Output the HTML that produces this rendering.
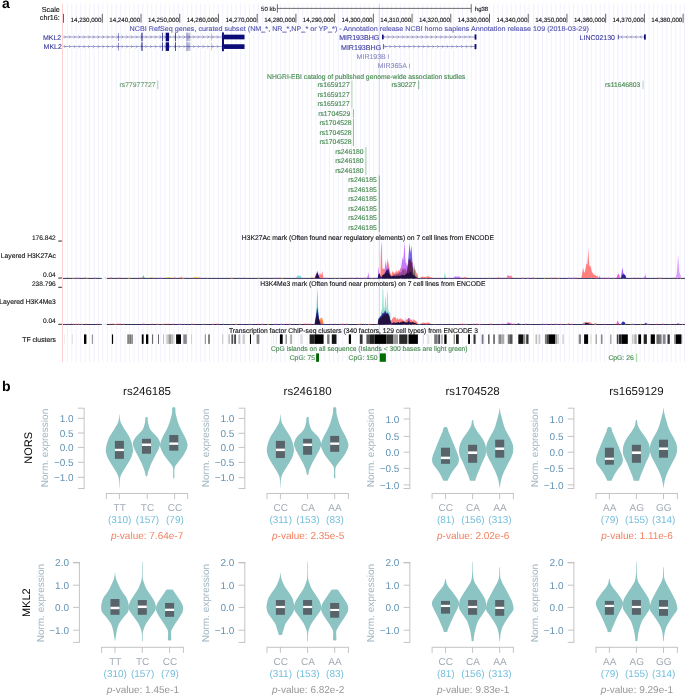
<!DOCTYPE html>
<html><head><meta charset="utf-8"><title>Figure</title>
<style>html,body{margin:0;padding:0;background:#fff;}svg{display:block;will-change:transform;}text{font-family:"Liberation Sans", sans-serif;text-rendering:geometricPrecision;}</style>
</head><body>
<svg width="685" height="696" viewBox="0 0 685 696" font-family='"Liberation Sans", sans-serif'>
<rect x="0" y="0" width="685" height="696" fill="#ffffff"/>
<g stroke="#e0e0ff" stroke-width="0.45">
<line x1="67.40" y1="3.5" x2="67.40" y2="362"/>
<line x1="71.84" y1="3.5" x2="71.84" y2="362"/>
<line x1="76.28" y1="3.5" x2="76.28" y2="362"/>
<line x1="80.72" y1="3.5" x2="80.72" y2="362"/>
<line x1="85.16" y1="3.5" x2="85.16" y2="362"/>
<line x1="89.60" y1="3.5" x2="89.60" y2="362"/>
<line x1="94.04" y1="3.5" x2="94.04" y2="362"/>
<line x1="98.48" y1="3.5" x2="98.48" y2="362"/>
<line x1="102.92" y1="3.5" x2="102.92" y2="362"/>
<line x1="107.36" y1="3.5" x2="107.36" y2="362"/>
<line x1="111.80" y1="3.5" x2="111.80" y2="362"/>
<line x1="116.24" y1="3.5" x2="116.24" y2="362"/>
<line x1="120.68" y1="3.5" x2="120.68" y2="362"/>
<line x1="125.12" y1="3.5" x2="125.12" y2="362"/>
<line x1="129.56" y1="3.5" x2="129.56" y2="362"/>
<line x1="134.00" y1="3.5" x2="134.00" y2="362"/>
<line x1="138.44" y1="3.5" x2="138.44" y2="362"/>
<line x1="142.88" y1="3.5" x2="142.88" y2="362"/>
<line x1="147.32" y1="3.5" x2="147.32" y2="362"/>
<line x1="151.76" y1="3.5" x2="151.76" y2="362"/>
<line x1="156.20" y1="3.5" x2="156.20" y2="362"/>
<line x1="160.64" y1="3.5" x2="160.64" y2="362"/>
<line x1="165.08" y1="3.5" x2="165.08" y2="362"/>
<line x1="169.52" y1="3.5" x2="169.52" y2="362"/>
<line x1="173.96" y1="3.5" x2="173.96" y2="362"/>
<line x1="178.40" y1="3.5" x2="178.40" y2="362"/>
<line x1="182.84" y1="3.5" x2="182.84" y2="362"/>
<line x1="187.28" y1="3.5" x2="187.28" y2="362"/>
<line x1="191.72" y1="3.5" x2="191.72" y2="362"/>
<line x1="196.16" y1="3.5" x2="196.16" y2="362"/>
<line x1="200.60" y1="3.5" x2="200.60" y2="362"/>
<line x1="205.04" y1="3.5" x2="205.04" y2="362"/>
<line x1="209.48" y1="3.5" x2="209.48" y2="362"/>
<line x1="213.92" y1="3.5" x2="213.92" y2="362"/>
<line x1="218.36" y1="3.5" x2="218.36" y2="362"/>
<line x1="222.80" y1="3.5" x2="222.80" y2="362"/>
<line x1="227.24" y1="3.5" x2="227.24" y2="362"/>
<line x1="231.68" y1="3.5" x2="231.68" y2="362"/>
<line x1="236.12" y1="3.5" x2="236.12" y2="362"/>
<line x1="240.56" y1="3.5" x2="240.56" y2="362"/>
<line x1="245.00" y1="3.5" x2="245.00" y2="362"/>
<line x1="249.44" y1="3.5" x2="249.44" y2="362"/>
<line x1="253.88" y1="3.5" x2="253.88" y2="362"/>
<line x1="258.32" y1="3.5" x2="258.32" y2="362"/>
<line x1="262.76" y1="3.5" x2="262.76" y2="362"/>
<line x1="267.20" y1="3.5" x2="267.20" y2="362"/>
<line x1="271.64" y1="3.5" x2="271.64" y2="362"/>
<line x1="276.08" y1="3.5" x2="276.08" y2="362"/>
<line x1="280.52" y1="3.5" x2="280.52" y2="362"/>
<line x1="284.96" y1="3.5" x2="284.96" y2="362"/>
<line x1="289.40" y1="3.5" x2="289.40" y2="362"/>
<line x1="293.84" y1="3.5" x2="293.84" y2="362"/>
<line x1="298.28" y1="3.5" x2="298.28" y2="362"/>
<line x1="302.72" y1="3.5" x2="302.72" y2="362"/>
<line x1="307.16" y1="3.5" x2="307.16" y2="362"/>
<line x1="311.60" y1="3.5" x2="311.60" y2="362"/>
<line x1="316.04" y1="3.5" x2="316.04" y2="362"/>
<line x1="320.48" y1="3.5" x2="320.48" y2="362"/>
<line x1="324.92" y1="3.5" x2="324.92" y2="362"/>
<line x1="329.36" y1="3.5" x2="329.36" y2="362"/>
<line x1="333.80" y1="3.5" x2="333.80" y2="362"/>
<line x1="338.24" y1="3.5" x2="338.24" y2="362"/>
<line x1="342.68" y1="3.5" x2="342.68" y2="362"/>
<line x1="347.12" y1="3.5" x2="347.12" y2="362"/>
<line x1="351.56" y1="3.5" x2="351.56" y2="362"/>
<line x1="356.00" y1="3.5" x2="356.00" y2="362"/>
<line x1="360.44" y1="3.5" x2="360.44" y2="362"/>
<line x1="364.88" y1="3.5" x2="364.88" y2="362"/>
<line x1="369.32" y1="3.5" x2="369.32" y2="362"/>
<line x1="373.76" y1="3.5" x2="373.76" y2="362"/>
<line x1="378.20" y1="3.5" x2="378.20" y2="362"/>
<line x1="382.64" y1="3.5" x2="382.64" y2="362"/>
<line x1="387.08" y1="3.5" x2="387.08" y2="362"/>
<line x1="391.52" y1="3.5" x2="391.52" y2="362"/>
<line x1="395.96" y1="3.5" x2="395.96" y2="362"/>
<line x1="400.40" y1="3.5" x2="400.40" y2="362"/>
<line x1="404.84" y1="3.5" x2="404.84" y2="362"/>
<line x1="409.28" y1="3.5" x2="409.28" y2="362"/>
<line x1="413.72" y1="3.5" x2="413.72" y2="362"/>
<line x1="418.16" y1="3.5" x2="418.16" y2="362"/>
<line x1="422.60" y1="3.5" x2="422.60" y2="362"/>
<line x1="427.04" y1="3.5" x2="427.04" y2="362"/>
<line x1="431.48" y1="3.5" x2="431.48" y2="362"/>
<line x1="435.92" y1="3.5" x2="435.92" y2="362"/>
<line x1="440.36" y1="3.5" x2="440.36" y2="362"/>
<line x1="444.80" y1="3.5" x2="444.80" y2="362"/>
<line x1="449.24" y1="3.5" x2="449.24" y2="362"/>
<line x1="453.68" y1="3.5" x2="453.68" y2="362"/>
<line x1="458.12" y1="3.5" x2="458.12" y2="362"/>
<line x1="462.56" y1="3.5" x2="462.56" y2="362"/>
<line x1="467.00" y1="3.5" x2="467.00" y2="362"/>
<line x1="471.44" y1="3.5" x2="471.44" y2="362"/>
<line x1="475.88" y1="3.5" x2="475.88" y2="362"/>
<line x1="480.32" y1="3.5" x2="480.32" y2="362"/>
<line x1="484.76" y1="3.5" x2="484.76" y2="362"/>
<line x1="489.20" y1="3.5" x2="489.20" y2="362"/>
<line x1="493.64" y1="3.5" x2="493.64" y2="362"/>
<line x1="498.08" y1="3.5" x2="498.08" y2="362"/>
<line x1="502.52" y1="3.5" x2="502.52" y2="362"/>
<line x1="506.96" y1="3.5" x2="506.96" y2="362"/>
<line x1="511.40" y1="3.5" x2="511.40" y2="362"/>
<line x1="515.84" y1="3.5" x2="515.84" y2="362"/>
<line x1="520.28" y1="3.5" x2="520.28" y2="362"/>
<line x1="524.72" y1="3.5" x2="524.72" y2="362"/>
<line x1="529.16" y1="3.5" x2="529.16" y2="362"/>
<line x1="533.60" y1="3.5" x2="533.60" y2="362"/>
<line x1="538.04" y1="3.5" x2="538.04" y2="362"/>
<line x1="542.48" y1="3.5" x2="542.48" y2="362"/>
<line x1="546.92" y1="3.5" x2="546.92" y2="362"/>
<line x1="551.36" y1="3.5" x2="551.36" y2="362"/>
<line x1="555.80" y1="3.5" x2="555.80" y2="362"/>
<line x1="560.24" y1="3.5" x2="560.24" y2="362"/>
<line x1="564.68" y1="3.5" x2="564.68" y2="362"/>
<line x1="569.12" y1="3.5" x2="569.12" y2="362"/>
<line x1="573.56" y1="3.5" x2="573.56" y2="362"/>
<line x1="578.00" y1="3.5" x2="578.00" y2="362"/>
<line x1="582.44" y1="3.5" x2="582.44" y2="362"/>
<line x1="586.88" y1="3.5" x2="586.88" y2="362"/>
<line x1="591.32" y1="3.5" x2="591.32" y2="362"/>
<line x1="595.76" y1="3.5" x2="595.76" y2="362"/>
<line x1="600.20" y1="3.5" x2="600.20" y2="362"/>
<line x1="604.64" y1="3.5" x2="604.64" y2="362"/>
<line x1="609.08" y1="3.5" x2="609.08" y2="362"/>
<line x1="613.52" y1="3.5" x2="613.52" y2="362"/>
<line x1="617.96" y1="3.5" x2="617.96" y2="362"/>
<line x1="622.40" y1="3.5" x2="622.40" y2="362"/>
<line x1="626.84" y1="3.5" x2="626.84" y2="362"/>
<line x1="631.28" y1="3.5" x2="631.28" y2="362"/>
<line x1="635.72" y1="3.5" x2="635.72" y2="362"/>
<line x1="640.16" y1="3.5" x2="640.16" y2="362"/>
<line x1="644.60" y1="3.5" x2="644.60" y2="362"/>
<line x1="649.04" y1="3.5" x2="649.04" y2="362"/>
<line x1="653.48" y1="3.5" x2="653.48" y2="362"/>
<line x1="657.92" y1="3.5" x2="657.92" y2="362"/>
<line x1="662.36" y1="3.5" x2="662.36" y2="362"/>
<line x1="666.80" y1="3.5" x2="666.80" y2="362"/>
<line x1="671.24" y1="3.5" x2="671.24" y2="362"/>
<line x1="675.68" y1="3.5" x2="675.68" y2="362"/>
<line x1="680.12" y1="3.5" x2="680.12" y2="362"/>
<line x1="684.56" y1="3.5" x2="684.56" y2="362"/>
</g>
<line x1="62.50" y1="3.50" x2="62.50" y2="362.00" stroke="#ffd2d2" stroke-width="1"/>
<line x1="379.50" y1="3.50" x2="379.50" y2="362.00" stroke="#c2e2f6" stroke-width="0.9"/>
<text x="1.9" y="8.0" font-size="14" font-weight="bold" fill="#000">a</text>
<text x="59.80" y="11.50" font-size="7.2" fill="#111" stroke="#111" stroke-width="0.12" text-anchor="end">Scale</text>
<text x="59.80" y="20.00" font-size="7.2" fill="#111" stroke="#111" stroke-width="0.12" text-anchor="end">chr16:</text>
<line x1="63.50" y1="13.80" x2="63.50" y2="22.70" stroke="#222" stroke-width="0.7"/>
<line x1="102.30" y1="13.80" x2="102.30" y2="22.70" stroke="#222" stroke-width="0.7"/>
<text x="101.50" y="21.80" font-size="6.2" fill="#111" stroke="#111" stroke-width="0.12" text-anchor="end">14,230,000</text>
<line x1="141.02" y1="13.80" x2="141.02" y2="22.70" stroke="#222" stroke-width="0.7"/>
<text x="140.22" y="21.80" font-size="6.2" fill="#111" stroke="#111" stroke-width="0.12" text-anchor="end">14,240,000</text>
<line x1="179.74" y1="13.80" x2="179.74" y2="22.70" stroke="#222" stroke-width="0.7"/>
<text x="178.94" y="21.80" font-size="6.2" fill="#111" stroke="#111" stroke-width="0.12" text-anchor="end">14,250,000</text>
<line x1="218.46" y1="13.80" x2="218.46" y2="22.70" stroke="#222" stroke-width="0.7"/>
<text x="217.66" y="21.80" font-size="6.2" fill="#111" stroke="#111" stroke-width="0.12" text-anchor="end">14,260,000</text>
<line x1="257.18" y1="13.80" x2="257.18" y2="22.70" stroke="#222" stroke-width="0.7"/>
<text x="256.38" y="21.80" font-size="6.2" fill="#111" stroke="#111" stroke-width="0.12" text-anchor="end">14,270,000</text>
<line x1="295.90" y1="13.80" x2="295.90" y2="22.70" stroke="#222" stroke-width="0.7"/>
<text x="295.10" y="21.80" font-size="6.2" fill="#111" stroke="#111" stroke-width="0.12" text-anchor="end">14,280,000</text>
<line x1="334.62" y1="13.80" x2="334.62" y2="22.70" stroke="#222" stroke-width="0.7"/>
<text x="333.82" y="21.80" font-size="6.2" fill="#111" stroke="#111" stroke-width="0.12" text-anchor="end">14,290,000</text>
<line x1="373.34" y1="13.80" x2="373.34" y2="22.70" stroke="#222" stroke-width="0.7"/>
<text x="372.54" y="21.80" font-size="6.2" fill="#111" stroke="#111" stroke-width="0.12" text-anchor="end">14,300,000</text>
<line x1="412.06" y1="13.80" x2="412.06" y2="22.70" stroke="#222" stroke-width="0.7"/>
<text x="411.26" y="21.80" font-size="6.2" fill="#111" stroke="#111" stroke-width="0.12" text-anchor="end">14,310,000</text>
<line x1="450.78" y1="13.80" x2="450.78" y2="22.70" stroke="#222" stroke-width="0.7"/>
<text x="449.98" y="21.80" font-size="6.2" fill="#111" stroke="#111" stroke-width="0.12" text-anchor="end">14,320,000</text>
<line x1="489.50" y1="13.80" x2="489.50" y2="22.70" stroke="#222" stroke-width="0.7"/>
<text x="488.70" y="21.80" font-size="6.2" fill="#111" stroke="#111" stroke-width="0.12" text-anchor="end">14,330,000</text>
<line x1="528.22" y1="13.80" x2="528.22" y2="22.70" stroke="#222" stroke-width="0.7"/>
<text x="527.42" y="21.80" font-size="6.2" fill="#111" stroke="#111" stroke-width="0.12" text-anchor="end">14,340,000</text>
<line x1="566.94" y1="13.80" x2="566.94" y2="22.70" stroke="#222" stroke-width="0.7"/>
<text x="566.14" y="21.80" font-size="6.2" fill="#111" stroke="#111" stroke-width="0.12" text-anchor="end">14,350,000</text>
<line x1="605.66" y1="13.80" x2="605.66" y2="22.70" stroke="#222" stroke-width="0.7"/>
<text x="604.86" y="21.80" font-size="6.2" fill="#111" stroke="#111" stroke-width="0.12" text-anchor="end">14,360,000</text>
<line x1="644.38" y1="13.80" x2="644.38" y2="22.70" stroke="#222" stroke-width="0.7"/>
<text x="643.58" y="21.80" font-size="6.2" fill="#111" stroke="#111" stroke-width="0.12" text-anchor="end">14,370,000</text>
<line x1="683.10" y1="13.80" x2="683.10" y2="22.70" stroke="#222" stroke-width="0.7"/>
<text x="682.30" y="21.80" font-size="6.2" fill="#111" stroke="#111" stroke-width="0.12" text-anchor="end">14,380,000</text>
<line x1="277.40" y1="8.40" x2="471.20" y2="8.40" stroke="#333" stroke-width="0.7"/>
<line x1="277.40" y1="4.20" x2="277.40" y2="12.60" stroke="#333" stroke-width="0.7"/>
<line x1="471.20" y1="4.20" x2="471.20" y2="12.60" stroke="#333" stroke-width="0.7"/>
<text x="275.80" y="11.40" font-size="6.0" fill="#111" stroke="#111" stroke-width="0.12" text-anchor="end">50 kb</text>
<text x="474.80" y="11.40" font-size="6.0" fill="#111" stroke="#111" stroke-width="0.12">hg38</text>
<text x="129.60" y="31.40" font-size="6.8" fill="#5656b0" stroke="#5656b0" stroke-width="0.12" textLength="459.20" lengthAdjust="spacingAndGlyphs">NCBI RefSeq genes, curated subset (NM_*, NR_*,NP_* or YP_*) - Annotation release NCBI homo sapiens Annotation release 109 (2018-03-29)</text>
<text x="61.20" y="39.60" font-size="7.0" fill="#3c3ca0" stroke="#3c3ca0" stroke-width="0.12" text-anchor="end">MKL2</text>
<line x1="63.20" y1="37.00" x2="244.50" y2="37.00" stroke="#2a2a8c" stroke-width="0.6" opacity="0.75"/>
<path d="M64.10,35.40L65.70,37.00L64.10,38.60M68.87,35.40L70.47,37.00L68.87,38.60M73.64,35.40L75.24,37.00L73.64,38.60M78.41,35.40L80.01,37.00L78.41,38.60M83.18,35.40L84.78,37.00L83.18,38.60M87.95,35.40L89.55,37.00L87.95,38.60M92.72,35.40L94.32,37.00L92.72,38.60M97.49,35.40L99.09,37.00L97.49,38.60M102.26,35.40L103.86,37.00L102.26,38.60M107.03,35.40L108.63,37.00L107.03,38.60M111.80,35.40L113.40,37.00L111.80,38.60M116.57,35.40L118.17,37.00L116.57,38.60M121.34,35.40L122.94,37.00L121.34,38.60M126.11,35.40L127.71,37.00L126.11,38.60M130.88,35.40L132.48,37.00L130.88,38.60M135.65,35.40L137.25,37.00L135.65,38.60M140.42,35.40L142.02,37.00L140.42,38.60M145.19,35.40L146.79,37.00L145.19,38.60M149.96,35.40L151.56,37.00L149.96,38.60M154.73,35.40L156.33,37.00L154.73,38.60M159.50,35.40L161.10,37.00L159.50,38.60M164.27,35.40L165.87,37.00L164.27,38.60M169.04,35.40L170.64,37.00L169.04,38.60M173.81,35.40L175.41,37.00L173.81,38.60M178.58,35.40L180.18,37.00L178.58,38.60M183.35,35.40L184.95,37.00L183.35,38.60M188.12,35.40L189.72,37.00L188.12,38.60M192.89,35.40L194.49,37.00L192.89,38.60M197.66,35.40L199.26,37.00L197.66,38.60M202.43,35.40L204.03,37.00L202.43,38.60M207.20,35.40L208.80,37.00L207.20,38.60M211.97,35.40L213.57,37.00L211.97,38.60M216.74,35.40L218.34,37.00L216.74,38.60M221.51,35.40L223.11,37.00L221.51,38.60M226.28,35.40L227.88,37.00L226.28,38.60M231.05,35.40L232.65,37.00L231.05,38.60M235.82,35.40L237.42,37.00L235.82,38.60M240.59,35.40L242.19,37.00L240.59,38.60" fill="none" stroke="#2a2a8c" stroke-width="0.5" opacity="0.68"/>
<rect x="118.10" y="33.00" width="0.60" height="8.00" fill="#0c0c78" opacity="0.75"/>
<rect x="141.50" y="32.70" width="1.00" height="8.60" fill="#0c0c78"/>
<rect x="162.00" y="32.70" width="0.80" height="8.60" fill="#0c0c78" opacity="0.9"/>
<rect x="165.70" y="32.70" width="3.30" height="8.60" fill="#0c0c78"/>
<rect x="175.10" y="32.70" width="0.80" height="8.60" fill="#0c0c78" opacity="0.9"/>
<rect x="186.30" y="32.70" width="0.60" height="8.60" fill="#0c0c78" opacity="0.5"/>
<rect x="187.40" y="32.70" width="0.60" height="8.60" fill="#0c0c78" opacity="0.5"/>
<rect x="188.50" y="32.70" width="0.60" height="8.60" fill="#0c0c78" opacity="0.5"/>
<rect x="189.60" y="32.70" width="0.60" height="8.60" fill="#0c0c78" opacity="0.5"/>
<rect x="211.40" y="33.00" width="0.50" height="8.00" fill="#0c0c78" opacity="0.4"/>
<rect x="222.00" y="32.40" width="1.90" height="9.20" fill="#0c0c78"/>
<rect x="223.90" y="34.65" width="20.60" height="4.70" fill="#0c0c78"/>
<text x="61.90" y="49.40" font-size="7.0" fill="#3c3ca0" stroke="#3c3ca0" stroke-width="0.12" text-anchor="end">MKL2</text>
<line x1="63.20" y1="46.60" x2="244.50" y2="46.60" stroke="#2a2a8c" stroke-width="0.6" opacity="0.75"/>
<path d="M64.10,45.00L65.70,46.60L64.10,48.20M68.87,45.00L70.47,46.60L68.87,48.20M73.64,45.00L75.24,46.60L73.64,48.20M78.41,45.00L80.01,46.60L78.41,48.20M83.18,45.00L84.78,46.60L83.18,48.20M87.95,45.00L89.55,46.60L87.95,48.20M92.72,45.00L94.32,46.60L92.72,48.20M97.49,45.00L99.09,46.60L97.49,48.20M102.26,45.00L103.86,46.60L102.26,48.20M107.03,45.00L108.63,46.60L107.03,48.20M111.80,45.00L113.40,46.60L111.80,48.20M116.57,45.00L118.17,46.60L116.57,48.20M121.34,45.00L122.94,46.60L121.34,48.20M126.11,45.00L127.71,46.60L126.11,48.20M130.88,45.00L132.48,46.60L130.88,48.20M135.65,45.00L137.25,46.60L135.65,48.20M140.42,45.00L142.02,46.60L140.42,48.20M145.19,45.00L146.79,46.60L145.19,48.20M149.96,45.00L151.56,46.60L149.96,48.20M154.73,45.00L156.33,46.60L154.73,48.20M159.50,45.00L161.10,46.60L159.50,48.20M164.27,45.00L165.87,46.60L164.27,48.20M169.04,45.00L170.64,46.60L169.04,48.20M173.81,45.00L175.41,46.60L173.81,48.20M178.58,45.00L180.18,46.60L178.58,48.20M183.35,45.00L184.95,46.60L183.35,48.20M188.12,45.00L189.72,46.60L188.12,48.20M192.89,45.00L194.49,46.60L192.89,48.20M197.66,45.00L199.26,46.60L197.66,48.20M202.43,45.00L204.03,46.60L202.43,48.20M207.20,45.00L208.80,46.60L207.20,48.20M211.97,45.00L213.57,46.60L211.97,48.20M216.74,45.00L218.34,46.60L216.74,48.20M221.51,45.00L223.11,46.60L221.51,48.20M226.28,45.00L227.88,46.60L226.28,48.20M231.05,45.00L232.65,46.60L231.05,48.20M235.82,45.00L237.42,46.60L235.82,48.20M240.59,45.00L242.19,46.60L240.59,48.20" fill="none" stroke="#2a2a8c" stroke-width="0.5" opacity="0.68"/>
<rect x="118.10" y="42.60" width="0.60" height="8.00" fill="#0c0c78" opacity="0.75"/>
<rect x="141.50" y="42.30" width="1.00" height="8.60" fill="#0c0c78"/>
<rect x="162.00" y="42.30" width="0.80" height="8.60" fill="#0c0c78" opacity="0.9"/>
<rect x="165.70" y="42.30" width="3.30" height="8.60" fill="#0c0c78"/>
<rect x="175.10" y="42.30" width="0.80" height="8.60" fill="#0c0c78" opacity="0.9"/>
<rect x="186.30" y="42.30" width="0.60" height="8.60" fill="#0c0c78" opacity="0.5"/>
<rect x="187.40" y="42.30" width="0.60" height="8.60" fill="#0c0c78" opacity="0.5"/>
<rect x="188.50" y="42.30" width="0.60" height="8.60" fill="#0c0c78" opacity="0.5"/>
<rect x="189.60" y="42.30" width="0.60" height="8.60" fill="#0c0c78" opacity="0.5"/>
<rect x="211.40" y="42.60" width="0.50" height="8.00" fill="#0c0c78" opacity="0.4"/>
<rect x="222.00" y="42.00" width="1.90" height="9.20" fill="#0c0c78"/>
<rect x="223.90" y="44.25" width="20.60" height="4.70" fill="#0c0c78"/>
<rect x="222.00" y="37.00" width="1.90" height="9.60" fill="#0c0c78"/>
<text x="379.40" y="40.00" font-size="7.1" fill="#3c3ca0" stroke="#3c3ca0" stroke-width="0.12" text-anchor="end">MIR193BHG</text>
<text x="381.20" y="49.50" font-size="7.1" fill="#3c3ca0" stroke="#3c3ca0" stroke-width="0.12" text-anchor="end">MIR193BHG</text>
<line x1="382.00" y1="37.00" x2="475.00" y2="37.00" stroke="#2a2a8c" stroke-width="0.6" opacity="0.75"/>
<path d="M382.90,35.40L384.50,37.00L382.90,38.60M387.67,35.40L389.27,37.00L387.67,38.60M392.44,35.40L394.04,37.00L392.44,38.60M397.21,35.40L398.81,37.00L397.21,38.60M401.98,35.40L403.58,37.00L401.98,38.60M406.75,35.40L408.35,37.00L406.75,38.60M411.52,35.40L413.12,37.00L411.52,38.60M416.29,35.40L417.89,37.00L416.29,38.60M421.06,35.40L422.66,37.00L421.06,38.60M425.83,35.40L427.43,37.00L425.83,38.60M430.60,35.40L432.20,37.00L430.60,38.60M435.37,35.40L436.97,37.00L435.37,38.60M440.14,35.40L441.74,37.00L440.14,38.60M444.91,35.40L446.51,37.00L444.91,38.60M449.68,35.40L451.28,37.00L449.68,38.60M454.45,35.40L456.05,37.00L454.45,38.60M459.22,35.40L460.82,37.00L459.22,38.60M463.99,35.40L465.59,37.00L463.99,38.60M468.76,35.40L470.36,37.00L468.76,38.60" fill="none" stroke="#2a2a8c" stroke-width="0.5" opacity="0.68"/>
<line x1="383.60" y1="46.60" x2="475.00" y2="46.60" stroke="#2a2a8c" stroke-width="0.6" opacity="0.75"/>
<path d="M384.50,45.00L386.10,46.60L384.50,48.20M389.27,45.00L390.87,46.60L389.27,48.20M394.04,45.00L395.64,46.60L394.04,48.20M398.81,45.00L400.41,46.60L398.81,48.20M403.58,45.00L405.18,46.60L403.58,48.20M408.35,45.00L409.95,46.60L408.35,48.20M413.12,45.00L414.72,46.60L413.12,48.20M417.89,45.00L419.49,46.60L417.89,48.20M422.66,45.00L424.26,46.60L422.66,48.20M427.43,45.00L429.03,46.60L427.43,48.20M432.20,45.00L433.80,46.60L432.20,48.20M436.97,45.00L438.57,46.60L436.97,48.20M441.74,45.00L443.34,46.60L441.74,48.20M446.51,45.00L448.11,46.60L446.51,48.20M451.28,45.00L452.88,46.60L451.28,48.20M456.05,45.00L457.65,46.60L456.05,48.20M460.82,45.00L462.42,46.60L460.82,48.20M465.59,45.00L467.19,46.60L465.59,48.20M470.36,45.00L471.96,46.60L470.36,48.20" fill="none" stroke="#2a2a8c" stroke-width="0.5" opacity="0.68"/>
<rect x="382.00" y="34.65" width="1.60" height="4.70" fill="#0c0c78"/>
<rect x="474.60" y="34.40" width="1.80" height="5.20" fill="#0c0c78"/>
<rect x="383.30" y="44.00" width="0.60" height="5.20" fill="#0c0c78"/>
<rect x="474.60" y="44.00" width="1.80" height="5.20" fill="#0c0c78"/>
<text x="385.80" y="58.90" font-size="7.0" fill="#8a8ac4" stroke="#8a8ac4" stroke-width="0.12" text-anchor="end">MIR193B</text>
<rect x="388.30" y="54.25" width="0.60" height="4.60" fill="#7a7ab8"/>
<text x="406.90" y="68.40" font-size="7.0" fill="#8a8ac4" stroke="#8a8ac4" stroke-width="0.12" text-anchor="end">MIR365A</text>
<rect x="409.10" y="63.70" width="0.60" height="4.60" fill="#7a7ab8"/>
<text x="615.00" y="40.00" font-size="7.0" fill="#3c3ca0" stroke="#3c3ca0" stroke-width="0.12" text-anchor="end">LINC02130</text>
<line x1="618.50" y1="37.00" x2="644.50" y2="37.00" stroke="#2a2a8c" stroke-width="0.6" opacity="0.75"/>
<path d="M622.60,35.40L621.00,37.00L622.60,38.60M627.37,35.40L625.77,37.00L627.37,38.60M632.14,35.40L630.54,37.00L632.14,38.60M636.91,35.40L635.31,37.00L636.91,38.60M641.68,35.40L640.08,37.00L641.68,38.60" fill="none" stroke="#2a2a8c" stroke-width="0.5" opacity="0.68"/>
<rect x="617.80" y="34.65" width="1.00" height="4.70" fill="#0c0c78" opacity="0.7"/>
<rect x="644.00" y="34.40" width="1.80" height="5.20" fill="#0c0c78"/>
<text x="267.00" y="79.00" font-size="6.8" fill="#468a4e" stroke="#468a4e" stroke-width="0.12" textLength="198.50" lengthAdjust="spacingAndGlyphs">NHGRI-EBI catalog of published genome-wide association studies</text>
<text x="155.50" y="87.15" font-size="6.8" fill="#6c9c72" stroke="#6c9c72" stroke-width="0.12" text-anchor="end">rs77977727</text>
<line x1="157.80" y1="80.55" x2="157.80" y2="89.25" stroke="#a8c8ac" stroke-width="0.9"/>
<text x="349.70" y="87.15" font-size="6.8" fill="#468a4e" stroke="#468a4e" stroke-width="0.12" text-anchor="end">rs1659127</text>
<text x="349.70" y="96.65" font-size="6.8" fill="#468a4e" stroke="#468a4e" stroke-width="0.12" text-anchor="end">rs1659127</text>
<text x="349.70" y="106.15" font-size="6.8" fill="#468a4e" stroke="#468a4e" stroke-width="0.12" text-anchor="end">rs1659127</text>
<line x1="351.90" y1="80.55" x2="351.90" y2="108.25" stroke="#c4dcc6" stroke-width="1.4"/>
<text x="416.10" y="87.15" font-size="6.8" fill="#468a4e" stroke="#468a4e" stroke-width="0.12" text-anchor="end">rs30227</text>
<line x1="418.70" y1="80.55" x2="418.70" y2="89.25" stroke="#5f9c68" stroke-width="0.8"/>
<text x="640.40" y="87.15" font-size="6.8" fill="#468a4e" stroke="#468a4e" stroke-width="0.12" text-anchor="end">rs11646803</text>
<line x1="643.00" y1="80.55" x2="643.00" y2="89.25" stroke="#b0d0b4" stroke-width="1.0"/>
<text x="350.30" y="115.65" font-size="6.8" fill="#468a4e" stroke="#468a4e" stroke-width="0.12" text-anchor="end">rs1704529</text>
<line x1="353.40" y1="109.05" x2="353.40" y2="117.75" stroke="#6fa878" stroke-width="0.8"/>
<text x="351.50" y="125.15" font-size="6.8" fill="#468a4e" stroke="#468a4e" stroke-width="0.12" text-anchor="end">rs1704528</text>
<text x="351.50" y="134.65" font-size="6.8" fill="#468a4e" stroke="#468a4e" stroke-width="0.12" text-anchor="end">rs1704528</text>
<text x="351.50" y="144.15" font-size="6.8" fill="#468a4e" stroke="#468a4e" stroke-width="0.12" text-anchor="end">rs1704528</text>
<line x1="353.40" y1="118.55" x2="353.40" y2="146.25" stroke="#6fa878" stroke-width="0.8"/>
<text x="363.50" y="153.65" font-size="6.8" fill="#468a4e" stroke="#468a4e" stroke-width="0.12" text-anchor="end">rs246180</text>
<text x="363.50" y="163.15" font-size="6.8" fill="#468a4e" stroke="#468a4e" stroke-width="0.12" text-anchor="end">rs246180</text>
<text x="363.50" y="172.65" font-size="6.8" fill="#468a4e" stroke="#468a4e" stroke-width="0.12" text-anchor="end">rs246180</text>
<line x1="365.90" y1="147.05" x2="365.90" y2="174.75" stroke="#bcd8bf" stroke-width="1.4"/>
<text x="376.70" y="182.15" font-size="6.8" fill="#468a4e" stroke="#468a4e" stroke-width="0.12" text-anchor="end">rs246185</text>
<text x="376.70" y="191.65" font-size="6.8" fill="#468a4e" stroke="#468a4e" stroke-width="0.12" text-anchor="end">rs246185</text>
<text x="376.70" y="201.15" font-size="6.8" fill="#468a4e" stroke="#468a4e" stroke-width="0.12" text-anchor="end">rs246185</text>
<text x="376.70" y="210.65" font-size="6.8" fill="#468a4e" stroke="#468a4e" stroke-width="0.12" text-anchor="end">rs246185</text>
<text x="376.70" y="220.15" font-size="6.8" fill="#468a4e" stroke="#468a4e" stroke-width="0.12" text-anchor="end">rs246185</text>
<text x="376.70" y="229.65" font-size="6.8" fill="#468a4e" stroke="#468a4e" stroke-width="0.12" text-anchor="end">rs246185</text>
<line x1="379.30" y1="175.55" x2="379.30" y2="231.75" stroke="#5f9c68" stroke-width="0.8"/>
<text x="241.80" y="239.50" font-size="6.8" fill="#111" stroke="#111" stroke-width="0.12" textLength="252.20" lengthAdjust="spacingAndGlyphs">H3K27Ac mark (Often found near regulatory elements) on 7 cell lines from ENCODE</text>
<text x="260.20" y="285.50" font-size="6.8" fill="#111" stroke="#111" stroke-width="0.12" textLength="225.20" lengthAdjust="spacingAndGlyphs">H3K4Me3 mark (Often found near promoters) on 7 cell lines from ENCODE</text>
<text x="55.80" y="239.60" font-size="6.6" fill="#111" stroke="#111" stroke-width="0.12" text-anchor="end">176.842</text>
<line x1="58.30" y1="241.10" x2="61.90" y2="241.00" stroke="#111" stroke-width="0.9"/>
<text x="55.90" y="257.60" font-size="6.8" fill="#111" stroke="#111" stroke-width="0.12" text-anchor="end">Layered H3K27Ac</text>
<text x="55.80" y="276.90" font-size="6.6" fill="#111" stroke="#111" stroke-width="0.12" text-anchor="end">0.04</text>
<line x1="58.30" y1="278.10" x2="61.90" y2="278.00" stroke="#111" stroke-width="0.9"/>
<text x="55.80" y="285.90" font-size="6.6" fill="#111" stroke="#111" stroke-width="0.12" text-anchor="end">238.796</text>
<line x1="58.30" y1="287.30" x2="61.90" y2="287.30" stroke="#111" stroke-width="0.9"/>
<text x="55.90" y="303.80" font-size="6.8" fill="#111" stroke="#111" stroke-width="0.12" text-anchor="end">Layered H3K4Me3</text>
<text x="55.80" y="322.80" font-size="6.6" fill="#111" stroke="#111" stroke-width="0.12" text-anchor="end">0.04</text>
<line x1="58.30" y1="324.30" x2="61.90" y2="324.30" stroke="#111" stroke-width="0.9"/>
<text x="55.90" y="341.60" font-size="6.8" fill="#111" stroke="#111" stroke-width="0.12" text-anchor="end">TF clusters</text>
<line x1="63.00" y1="278.40" x2="101.80" y2="278.40" stroke="#1c1848" stroke-width="0.9"/>
<line x1="106.80" y1="278.40" x2="685.00" y2="278.40" stroke="#1c1848" stroke-width="0.9"/>
<rect x="67.50" y="277.45" width="0.80" height="1.30" fill="#ff4060" opacity="0.6"/>
<rect x="72.10" y="277.45" width="0.80" height="1.30" fill="#f5d040" opacity="0.6"/>
<rect x="73.40" y="277.45" width="1.00" height="1.30" fill="#f5d040" opacity="0.6"/>
<rect x="76.20" y="277.45" width="2.00" height="1.30" fill="#e860d8" opacity="0.6"/>
<rect x="78.70" y="277.45" width="1.00" height="1.30" fill="#c878ff" opacity="0.6"/>
<rect x="84.50" y="277.45" width="1.50" height="1.30" fill="#ff4060" opacity="0.6"/>
<rect x="86.50" y="277.45" width="1.00" height="1.30" fill="#f5d040" opacity="0.6"/>
<rect x="94.50" y="277.45" width="1.50" height="1.30" fill="#c878ff" opacity="0.6"/>
<rect x="110.10" y="277.45" width="2.00" height="1.30" fill="#ff4060" opacity="0.6"/>
<rect x="118.60" y="277.45" width="2.00" height="1.30" fill="#ff4060" opacity="0.6"/>
<rect x="127.90" y="277.45" width="2.00" height="1.30" fill="#f5d040" opacity="0.6"/>
<rect x="138.70" y="277.45" width="0.80" height="1.30" fill="#ff5090" opacity="0.6"/>
<rect x="140.50" y="277.45" width="1.00" height="1.30" fill="#e03070" opacity="0.6"/>
<rect x="142.00" y="277.45" width="1.00" height="1.30" fill="#ff5090" opacity="0.6"/>
<rect x="153.00" y="277.45" width="1.00" height="1.30" fill="#c878ff" opacity="0.6"/>
<rect x="159.50" y="277.45" width="1.50" height="1.30" fill="#c878ff" opacity="0.6"/>
<rect x="174.00" y="277.45" width="2.00" height="1.30" fill="#ff4060" opacity="0.6"/>
<rect x="179.00" y="277.45" width="2.00" height="1.30" fill="#ff4060" opacity="0.6"/>
<rect x="182.00" y="277.45" width="2.00" height="1.30" fill="#ffb060" opacity="0.6"/>
<rect x="184.50" y="277.45" width="0.80" height="1.30" fill="#c878ff" opacity="0.6"/>
<rect x="193.30" y="277.45" width="2.00" height="1.30" fill="#e03070" opacity="0.6"/>
<rect x="198.30" y="277.45" width="2.00" height="1.30" fill="#ff4060" opacity="0.6"/>
<rect x="207.10" y="277.45" width="0.80" height="1.30" fill="#ffb060" opacity="0.6"/>
<rect x="230.80" y="277.45" width="2.00" height="1.30" fill="#ffb060" opacity="0.6"/>
<rect x="239.30" y="277.45" width="0.80" height="1.30" fill="#e860d8" opacity="0.6"/>
<rect x="243.10" y="277.45" width="1.00" height="1.30" fill="#e03070" opacity="0.6"/>
<rect x="257.90" y="277.45" width="1.50" height="1.30" fill="#f5d040" opacity="0.6"/>
<rect x="264.90" y="277.45" width="1.00" height="1.30" fill="#c878ff" opacity="0.6"/>
<rect x="274.40" y="277.45" width="1.50" height="1.30" fill="#c878ff" opacity="0.6"/>
<rect x="277.70" y="277.45" width="1.00" height="1.30" fill="#e860d8" opacity="0.6"/>
<rect x="279.70" y="277.45" width="0.80" height="1.30" fill="#ff5090" opacity="0.6"/>
<rect x="281.50" y="277.45" width="1.50" height="1.30" fill="#f5d040" opacity="0.6"/>
<rect x="295.80" y="277.45" width="1.00" height="1.30" fill="#e03070" opacity="0.6"/>
<rect x="297.30" y="277.45" width="0.80" height="1.30" fill="#e03070" opacity="0.6"/>
<rect x="298.60" y="277.45" width="0.80" height="1.30" fill="#ff5090" opacity="0.6"/>
<rect x="301.20" y="277.45" width="0.80" height="1.30" fill="#e860d8" opacity="0.6"/>
<rect x="314.00" y="277.45" width="2.00" height="1.30" fill="#e03070" opacity="0.6"/>
<rect x="321.80" y="277.45" width="0.80" height="1.30" fill="#ff5090" opacity="0.6"/>
<rect x="326.10" y="277.45" width="1.00" height="1.30" fill="#c878ff" opacity="0.6"/>
<rect x="334.60" y="277.45" width="1.00" height="1.30" fill="#f5d040" opacity="0.6"/>
<rect x="338.60" y="277.45" width="1.50" height="1.30" fill="#ffb060" opacity="0.6"/>
<rect x="347.90" y="277.45" width="0.80" height="1.30" fill="#ff5090" opacity="0.6"/>
<rect x="351.00" y="277.45" width="0.80" height="1.30" fill="#ff5090" opacity="0.6"/>
<rect x="352.30" y="277.45" width="1.00" height="1.30" fill="#c878ff" opacity="0.6"/>
<rect x="356.30" y="277.45" width="1.50" height="1.30" fill="#e03070" opacity="0.6"/>
<rect x="359.80" y="277.45" width="0.80" height="1.30" fill="#c878ff" opacity="0.6"/>
<rect x="363.60" y="277.45" width="0.80" height="1.30" fill="#ff7f7f" opacity="0.6"/>
<rect x="364.90" y="277.45" width="1.50" height="1.30" fill="#e860d8" opacity="0.6"/>
<rect x="371.40" y="277.45" width="0.80" height="1.30" fill="#f5d040" opacity="0.6"/>
<rect x="374.20" y="277.45" width="1.00" height="1.30" fill="#e860d8" opacity="0.6"/>
<rect x="375.70" y="277.45" width="1.00" height="1.30" fill="#c878ff" opacity="0.6"/>
<rect x="380.20" y="277.45" width="1.50" height="1.30" fill="#c878ff" opacity="0.6"/>
<rect x="387.20" y="277.45" width="0.80" height="1.30" fill="#e860d8" opacity="0.6"/>
<rect x="400.00" y="277.45" width="1.50" height="1.30" fill="#c878ff" opacity="0.6"/>
<rect x="407.00" y="277.45" width="0.80" height="1.30" fill="#ff5090" opacity="0.6"/>
<rect x="410.80" y="277.45" width="1.00" height="1.30" fill="#f5d040" opacity="0.6"/>
<rect x="415.30" y="277.45" width="2.00" height="1.30" fill="#ff5090" opacity="0.6"/>
<rect x="420.30" y="277.45" width="0.80" height="1.30" fill="#ffb060" opacity="0.6"/>
<rect x="423.10" y="277.45" width="1.00" height="1.30" fill="#ff5090" opacity="0.6"/>
<rect x="425.10" y="277.45" width="1.50" height="1.30" fill="#ffb060" opacity="0.6"/>
<rect x="429.60" y="277.45" width="0.80" height="1.30" fill="#e860d8" opacity="0.6"/>
<rect x="431.40" y="277.45" width="0.80" height="1.30" fill="#ff4060" opacity="0.6"/>
<rect x="438.20" y="277.45" width="0.80" height="1.30" fill="#e860d8" opacity="0.6"/>
<rect x="448.00" y="277.45" width="1.00" height="1.30" fill="#c878ff" opacity="0.6"/>
<rect x="454.30" y="277.45" width="0.80" height="1.30" fill="#c878ff" opacity="0.6"/>
<rect x="457.10" y="277.45" width="0.80" height="1.30" fill="#e03070" opacity="0.6"/>
<rect x="460.20" y="277.45" width="2.00" height="1.30" fill="#e03070" opacity="0.6"/>
<rect x="464.00" y="277.45" width="2.00" height="1.30" fill="#ff4060" opacity="0.6"/>
<rect x="488.60" y="277.45" width="1.00" height="1.30" fill="#ff7f7f" opacity="0.6"/>
<rect x="497.60" y="277.45" width="1.50" height="1.30" fill="#e03070" opacity="0.6"/>
<rect x="499.60" y="277.45" width="1.00" height="1.30" fill="#ff4060" opacity="0.6"/>
<rect x="503.60" y="277.45" width="0.80" height="1.30" fill="#ff4060" opacity="0.6"/>
<rect x="507.40" y="277.45" width="1.50" height="1.30" fill="#e860d8" opacity="0.6"/>
<rect x="509.40" y="277.45" width="0.80" height="1.30" fill="#ff5090" opacity="0.6"/>
<rect x="522.00" y="277.45" width="2.00" height="1.30" fill="#ff7f7f" opacity="0.6"/>
<rect x="527.00" y="277.45" width="2.00" height="1.30" fill="#c878ff" opacity="0.6"/>
<rect x="532.00" y="277.45" width="1.50" height="1.30" fill="#ff4060" opacity="0.6"/>
<rect x="535.50" y="277.45" width="0.80" height="1.30" fill="#ffb060" opacity="0.6"/>
<rect x="543.90" y="277.45" width="1.50" height="1.30" fill="#f5d040" opacity="0.6"/>
<rect x="548.40" y="277.45" width="0.80" height="1.30" fill="#f5d040" opacity="0.6"/>
<rect x="551.20" y="277.45" width="0.80" height="1.30" fill="#ff7f7f" opacity="0.6"/>
<rect x="554.00" y="277.45" width="1.00" height="1.30" fill="#ff5090" opacity="0.6"/>
<rect x="558.00" y="277.45" width="1.50" height="1.30" fill="#ffb060" opacity="0.6"/>
<rect x="567.80" y="277.45" width="2.00" height="1.30" fill="#c878ff" opacity="0.6"/>
<rect x="571.80" y="277.45" width="2.00" height="1.30" fill="#c878ff" opacity="0.6"/>
<rect x="574.80" y="277.45" width="2.00" height="1.30" fill="#ff5090" opacity="0.6"/>
<rect x="591.30" y="277.45" width="0.80" height="1.30" fill="#c878ff" opacity="0.6"/>
<rect x="596.60" y="277.45" width="1.00" height="1.30" fill="#ffb060" opacity="0.6"/>
<rect x="600.60" y="277.45" width="2.00" height="1.30" fill="#e860d8" opacity="0.6"/>
<rect x="603.60" y="277.45" width="0.80" height="1.30" fill="#ff4060" opacity="0.6"/>
<rect x="606.40" y="277.45" width="1.00" height="1.30" fill="#e860d8" opacity="0.6"/>
<rect x="607.90" y="277.45" width="2.00" height="1.30" fill="#e860d8" opacity="0.6"/>
<rect x="612.90" y="277.45" width="1.50" height="1.30" fill="#ff7f7f" opacity="0.6"/>
<rect x="622.90" y="277.45" width="0.80" height="1.30" fill="#e860d8" opacity="0.6"/>
<rect x="633.70" y="277.45" width="1.00" height="1.30" fill="#e03070" opacity="0.6"/>
<rect x="637.70" y="277.45" width="0.80" height="1.30" fill="#e03070" opacity="0.6"/>
<rect x="643.50" y="277.45" width="1.00" height="1.30" fill="#ff4060" opacity="0.6"/>
<rect x="657.40" y="277.45" width="0.80" height="1.30" fill="#ff5090" opacity="0.6"/>
<rect x="659.20" y="277.45" width="2.00" height="1.30" fill="#ff7f7f" opacity="0.6"/>
<rect x="673.50" y="277.45" width="0.80" height="1.30" fill="#e03070" opacity="0.6"/>
<rect x="677.30" y="277.45" width="0.80" height="1.30" fill="#f5d040" opacity="0.6"/>
<rect x="680.10" y="277.45" width="1.00" height="1.30" fill="#ffb060" opacity="0.6"/>
<rect x="103.20" y="277.80" width="0.90" height="0.90" fill="#f5d040" opacity="0.6"/>
<rect x="104.80" y="277.80" width="0.90" height="0.90" fill="#70d8d8" opacity="0.7"/>
<path d="M104.40,278.00L104.40,278.00L104.92,277.55L105.20,277.00L105.48,277.55L106.00,278.00L106.00,278.00Z" fill="#70d8d8" opacity="1.0"/>
<path d="M141.80,278.00L141.80,278.00L142.84,276.65L143.40,275.00L143.96,276.65L145.00,278.00L145.00,278.00Z" fill="#40c890" opacity="1.0"/>
<path d="M150.00,278.00L150.00,278.00L151.00,276.80L152.50,277.40L154.00,278.00L154.00,278.00Z" fill="#f5d040" opacity="1.0"/>
<path d="M166.00,278.00L166.00,278.00L168.00,277.00L170.00,277.30L172.00,278.00L172.00,278.00Z" fill="#f5d040" opacity="1.0"/>
<path d="M180.30,278.00L180.30,278.00L181.08,277.10L181.50,276.00L181.92,277.10L182.70,278.00L182.70,278.00Z" fill="#ffb060" opacity="1.0"/>
<path d="M193.00,278.00L193.00,278.00L195.00,276.80L197.00,277.20L199.00,278.00L199.00,278.00Z" fill="#f5d040" opacity="1.0"/>
<path d="M296.30,278.00L296.30,278.00L297.30,275.80L298.30,275.40L299.30,276.00L300.30,275.60L301.60,278.00L301.60,278.00Z" fill="#70d8d8" opacity="1.0"/>
<path d="M310.50,278.00L310.50,278.00L311.50,276.80L312.50,277.20L313.40,278.00L313.40,278.00Z" fill="#ffb060" opacity="1.0"/>
<path d="M318.80,278.00L318.80,278.00L319.50,274.00L320.00,272.20L320.60,274.50L321.30,275.00L321.80,273.00L322.30,270.90L322.80,274.00L323.40,278.00L323.40,278.00Z" fill="#ff7f7f" opacity="1.0"/>
<path d="M315.00,278.00L315.00,278.00L315.80,274.80L316.40,273.40L316.90,272.50L317.40,270.70L317.90,273.00L318.40,274.50L319.00,276.00L319.60,278.00L319.60,278.00Z" fill="#8040c8" opacity="1.0"/>
<path d="M315.20,278.00L315.20,278.00L316.00,275.60L316.70,274.20L317.40,272.60L318.00,274.60L318.80,276.40L319.40,278.00L319.40,278.00Z" fill="#241040" opacity="1.0"/>
<path d="M367.10,278.00L367.10,278.00L367.88,275.30L368.30,272.00L368.72,275.30L369.50,278.00L369.50,278.00Z" fill="#c878ff" opacity="1.0"/>
<path d="M377.60,278.00L377.60,278.00L379.00,276.00L380.40,275.00L380.75,258.00L381.05,247.00L381.40,241.50L381.75,247.00L382.05,258.00L382.40,269.00L383.00,268.00L384.00,269.50L385.00,268.50L386.00,268.00L387.00,267.00L388.00,264.00L388.40,261.50L389.00,266.00L390.00,271.00L391.30,276.00L392.00,273.00L392.60,270.50L393.20,273.50L393.80,271.50L394.50,274.00L395.30,271.00L396.00,273.00L396.80,270.00L397.50,272.50L398.30,270.00L399.20,271.50L400.00,269.00L401.00,268.00L402.50,269.00L404.00,270.00L406.00,271.00L408.00,266.00L410.00,264.00L412.00,263.00L412.80,261.50L413.50,268.00L414.20,270.00L415.00,269.00L415.80,271.00L416.50,273.00L417.30,275.00L418.20,278.00L418.20,278.00Z" fill="#ff7f7f" opacity="1.0"/>
<path d="M377.80,278.00L377.80,278.00L378.25,270.50L378.60,266.60L378.95,270.50L379.50,278.00L379.50,278.00Z" fill="#c878ff" opacity="1.0"/>
<path d="M384.20,278.00L384.20,278.00L384.80,268.00L385.20,263.00L385.50,259.80L385.90,265.00L386.40,267.50L386.90,263.00L387.40,257.70L387.90,264.00L388.50,270.00L389.20,278.00L389.20,278.00Z" fill="#c878ff" opacity="1.0"/>
<path d="M398.50,278.00L398.50,278.00L399.50,273.00L400.50,270.00L401.30,266.00L401.90,262.00L402.40,258.50L402.70,256.80L403.10,261.00L403.60,256.00L404.10,248.00L404.50,241.50L404.90,249.00L405.30,257.00L405.80,263.00L406.30,262.50L406.90,266.00L407.50,264.00L408.00,268.00L408.60,278.00L408.60,278.00Z" fill="#c878ff" opacity="1.0"/>
<path d="M406.80,278.00L406.80,278.00L407.50,268.00L408.30,259.00L408.90,251.00L409.40,246.00L409.70,242.80L410.10,249.00L410.50,253.00L410.90,250.00L411.20,247.00L411.50,245.40L411.90,254.00L412.40,262.00L412.90,269.00L413.60,278.00L413.60,278.00Z" fill="#7460ec" opacity="1.0"/>
<path d="M406.30,278.00L406.30,278.00L406.70,274.24L407.10,271.09L407.50,267.79L407.90,265.90L408.30,264.08L408.70,259.80L409.10,257.94L409.50,260.90L409.90,258.13L410.30,258.94L410.70,262.41L411.10,258.81L411.50,262.38L411.90,263.24L412.30,266.45L412.70,267.65L413.10,271.39L413.50,274.09L413.90,276.14L414.20,278.00L414.20,278.00Z" fill="#5c2458" opacity="1.0"/>
<path d="M414.00,278.00L414.00,278.00L414.30,270.00L414.60,264.00L414.90,270.00L415.30,278.00L415.30,278.00Z" fill="#5a6e48" opacity="1.0"/>
<path d="M416.50,278.00L416.50,278.00L417.00,273.00L417.60,278.00L417.60,278.00Z" fill="#58a070" opacity="1.0"/>
<path d="M383.50,278.00L383.50,278.00L383.90,276.12L384.30,274.45L384.70,273.24L385.10,272.77L385.50,271.33L385.90,271.91L386.30,269.09L386.70,269.88L387.10,270.56L387.50,268.34L387.90,269.95L388.30,267.44L388.70,270.29L389.10,271.20L389.50,273.18L389.90,274.36L390.30,274.95L390.70,276.79L391.00,278.00L391.00,278.00Z" fill="#3a1868" opacity="1.0"/>
<path d="M377.80,278.00L377.80,278.00L378.20,275.26L378.60,274.38L379.00,273.56L379.40,273.53L379.80,273.50L380.20,275.20L380.60,276.28L381.00,278.00L381.00,278.00L381.00,278.00Z" fill="#28146a" opacity="1.0"/>
<path d="M392.00,278.00L392.00,278.00L392.45,276.30L392.90,275.27L393.35,274.84L393.80,274.56L394.25,274.11L394.70,274.90L395.15,274.87L395.60,274.36L396.05,274.28L396.50,273.72L396.95,273.19L397.40,273.68L397.85,273.93L398.30,272.86L398.75,274.09L399.20,272.72L399.65,272.20L400.10,271.23L400.55,273.16L401.00,272.07L401.45,272.14L401.90,271.02L402.35,268.76L402.80,269.33L403.25,269.64L403.70,268.07L404.15,270.95L404.60,268.59L405.05,267.63L405.50,270.39L405.95,268.09L406.40,271.20L406.85,271.55L407.30,274.23L407.75,276.53L408.00,278.00L408.00,278.00Z" fill="#8a3a78" opacity="0.75"/>
<path d="M381.00,278.00L381.00,278.00L381.45,276.79L381.90,276.47L382.35,274.92L382.80,275.54L383.25,274.21L383.70,274.20L384.15,275.46L384.60,273.52L385.05,274.24L385.50,273.54L385.95,273.25L386.40,273.34L386.85,272.52L387.30,274.24L387.75,272.24L388.20,272.90L388.65,273.02L389.10,274.17L389.55,275.00L390.00,276.22L390.45,275.66L390.90,275.50L391.35,275.83L391.80,276.74L392.25,275.79L392.70,276.26L393.15,275.89L393.60,276.12L394.05,275.63L394.50,276.11L394.95,275.90L395.40,276.12L395.85,276.45L396.30,276.04L396.75,275.43L397.20,275.24L397.65,276.32L398.10,275.64L398.55,275.16L399.00,276.16L399.45,275.57L399.90,275.73L400.35,275.91L400.80,274.90L401.25,274.94L401.70,275.74L402.15,274.40L402.60,275.43L403.05,274.17L403.50,275.17L403.95,275.13L404.40,275.55L404.85,275.29L405.30,274.55L405.75,273.85L406.20,273.58L406.65,274.15L407.10,273.86L407.55,272.50L408.00,274.44L408.45,273.20L408.90,273.59L409.35,271.99L409.80,271.86L410.25,271.12L410.70,272.28L411.15,272.18L411.60,272.87L412.05,273.36L412.50,274.98L412.95,275.55L413.40,274.59L413.85,275.24L414.30,275.20L414.75,276.11L415.20,276.71L415.65,276.32L416.10,277.08L416.55,277.18L417.00,277.50L417.45,277.97L417.50,278.00L417.50,278.00Z" fill="#241040" opacity="1.0"/>
<path d="M420.00,278.00L420.00,278.00L422.00,276.40L425.00,277.00L428.00,276.20L431.00,277.20L433.00,278.00L433.00,278.00Z" fill="#ff7f7f" opacity="1.0"/>
<path d="M443.80,278.00L443.80,278.00L444.51,275.21L444.90,271.80L445.28,275.21L446.00,278.00L446.00,278.00Z" fill="#78dcc8" opacity="1.0"/>
<path d="M453.50,278.00L453.50,278.00L455.00,276.20L457.00,276.80L459.00,276.20L460.50,278.00L460.50,278.00Z" fill="#c878ff" opacity="1.0"/>
<path d="M463.00,278.00L463.00,278.00L465.00,276.80L467.00,278.00L467.00,278.00Z" fill="#ff7f7f" opacity="1.0"/>
<path d="M506.50,278.00L506.50,278.00L508.00,275.20L509.50,276.20L511.00,275.60L513.00,278.00L513.00,278.00Z" fill="#ff7f7f" opacity="1.0"/>
<path d="M507.00,278.00L507.00,278.00L508.00,274.80L509.00,278.00L509.00,278.00Z" fill="#c878ff" opacity="1.0"/>
<path d="M581.30,278.00L581.30,278.00L582.40,272.00L583.10,267.40L583.80,271.00L584.60,273.00L585.60,268.00L586.50,263.00L587.30,265.00L587.90,256.00L588.40,247.50L588.90,260.00L589.60,267.00L590.40,265.50L591.20,269.00L592.00,272.00L593.00,273.50L594.00,275.00L595.00,274.50L596.00,276.00L597.50,275.80L598.50,278.00L598.50,278.00Z" fill="#ff7f7f" opacity="1.0"/>
<path d="M598.40,278.00L598.40,278.00L599.05,276.83L599.40,275.40L599.75,276.83L600.40,278.00L600.40,278.00Z" fill="#c878ff" opacity="1.0"/>
<path d="M616.50,278.00L616.50,278.00L617.60,274.80L618.40,273.40L619.20,275.00L620.00,278.00L620.00,278.00Z" fill="#e860d8" opacity="1.0"/>
<path d="M620.60,278.00L620.60,278.00L621.60,273.00L622.50,267.20L623.30,273.00L624.50,274.50L625.50,275.50L626.40,278.00L626.40,278.00Z" fill="#a060f0" opacity="1.0"/>
<path d="M621.00,278.00L621.00,278.00L622.00,275.50L623.00,274.20L624.50,274.80L625.50,276.00L626.00,278.00L626.00,278.00Z" fill="#30208a" opacity="1.0"/>
<path d="M643.80,278.00L643.80,278.00L644.71,276.20L645.20,274.00L645.69,276.20L646.60,278.00L646.60,278.00Z" fill="#c878ff" opacity="1.0"/>
<path d="M675.60,278.00L675.60,278.00L676.80,273.00L677.60,262.00L678.10,254.50L678.60,261.00L679.30,272.00L680.60,275.50L681.50,278.00L681.50,278.00Z" fill="#dca0ff" opacity="1.0"/>
<line x1="63.00" y1="324.50" x2="101.80" y2="324.50" stroke="#1c1848" stroke-width="0.9"/>
<line x1="106.80" y1="324.50" x2="685.00" y2="324.50" stroke="#1c1848" stroke-width="0.9"/>
<rect x="64.30" y="323.55" width="1.00" height="1.30" fill="#e860d8" opacity="0.6"/>
<rect x="67.30" y="323.55" width="1.00" height="1.30" fill="#e860d8" opacity="0.6"/>
<rect x="70.30" y="323.55" width="1.50" height="1.30" fill="#e03070" opacity="0.6"/>
<rect x="72.80" y="323.55" width="1.00" height="1.30" fill="#ff7f7f" opacity="0.6"/>
<rect x="74.80" y="323.55" width="2.00" height="1.30" fill="#ff7f7f" opacity="0.6"/>
<rect x="77.80" y="323.55" width="2.00" height="1.30" fill="#ff7f7f" opacity="0.6"/>
<rect x="80.80" y="323.55" width="2.00" height="1.30" fill="#ffb060" opacity="0.6"/>
<rect x="86.10" y="323.55" width="1.00" height="1.30" fill="#e03070" opacity="0.6"/>
<rect x="96.60" y="323.55" width="1.00" height="1.30" fill="#ff4060" opacity="0.6"/>
<rect x="99.60" y="323.55" width="0.80" height="1.30" fill="#ff4060" opacity="0.6"/>
<rect x="110.40" y="323.55" width="1.00" height="1.30" fill="#e03070" opacity="0.6"/>
<rect x="112.40" y="323.55" width="1.50" height="1.30" fill="#e03070" opacity="0.6"/>
<rect x="114.40" y="323.55" width="2.00" height="1.30" fill="#f5d040" opacity="0.6"/>
<rect x="116.90" y="323.55" width="2.00" height="1.30" fill="#ff4060" opacity="0.6"/>
<rect x="119.40" y="323.55" width="1.50" height="1.30" fill="#ff4060" opacity="0.6"/>
<rect x="122.90" y="323.55" width="1.50" height="1.30" fill="#ff7f7f" opacity="0.6"/>
<rect x="142.50" y="323.55" width="2.00" height="1.30" fill="#e03070" opacity="0.6"/>
<rect x="151.30" y="323.55" width="1.50" height="1.30" fill="#ff4060" opacity="0.6"/>
<rect x="156.80" y="323.55" width="2.00" height="1.30" fill="#ff7f7f" opacity="0.6"/>
<rect x="161.80" y="323.55" width="1.50" height="1.30" fill="#f5d040" opacity="0.6"/>
<rect x="163.80" y="323.55" width="0.80" height="1.30" fill="#ff4060" opacity="0.6"/>
<rect x="165.60" y="323.55" width="0.80" height="1.30" fill="#e03070" opacity="0.6"/>
<rect x="167.40" y="323.55" width="1.00" height="1.30" fill="#e03070" opacity="0.6"/>
<rect x="172.20" y="323.55" width="1.50" height="1.30" fill="#ff5090" opacity="0.6"/>
<rect x="178.20" y="323.55" width="2.00" height="1.30" fill="#e860d8" opacity="0.6"/>
<rect x="181.20" y="323.55" width="1.00" height="1.30" fill="#e860d8" opacity="0.6"/>
<rect x="184.20" y="323.55" width="0.80" height="1.30" fill="#e860d8" opacity="0.6"/>
<rect x="187.30" y="323.55" width="0.80" height="1.30" fill="#e860d8" opacity="0.6"/>
<rect x="191.10" y="323.55" width="1.50" height="1.30" fill="#ff5090" opacity="0.6"/>
<rect x="193.60" y="323.55" width="0.80" height="1.30" fill="#e860d8" opacity="0.6"/>
<rect x="202.70" y="323.55" width="1.00" height="1.30" fill="#ffb060" opacity="0.6"/>
<rect x="204.70" y="323.55" width="0.80" height="1.30" fill="#ff5090" opacity="0.6"/>
<rect x="212.00" y="323.55" width="1.50" height="1.30" fill="#ff7f7f" opacity="0.6"/>
<rect x="216.50" y="323.55" width="2.00" height="1.30" fill="#ff4060" opacity="0.6"/>
<rect x="223.00" y="323.55" width="1.00" height="1.30" fill="#ff5090" opacity="0.6"/>
<rect x="231.50" y="323.55" width="0.80" height="1.30" fill="#ffb060" opacity="0.6"/>
<rect x="235.30" y="323.55" width="2.00" height="1.30" fill="#ffb060" opacity="0.6"/>
<rect x="241.30" y="323.55" width="0.80" height="1.30" fill="#c878ff" opacity="0.6"/>
<rect x="248.90" y="323.55" width="1.50" height="1.30" fill="#c878ff" opacity="0.6"/>
<rect x="251.40" y="323.55" width="0.80" height="1.30" fill="#c878ff" opacity="0.6"/>
<rect x="258.00" y="323.55" width="1.00" height="1.30" fill="#ff5090" opacity="0.6"/>
<rect x="261.50" y="323.55" width="2.00" height="1.30" fill="#e860d8" opacity="0.6"/>
<rect x="267.00" y="323.55" width="2.00" height="1.30" fill="#f5d040" opacity="0.6"/>
<rect x="274.50" y="323.55" width="2.00" height="1.30" fill="#e860d8" opacity="0.6"/>
<rect x="280.00" y="323.55" width="2.00" height="1.30" fill="#c878ff" opacity="0.6"/>
<rect x="283.00" y="323.55" width="1.00" height="1.30" fill="#ff7f7f" opacity="0.6"/>
<rect x="286.00" y="323.55" width="0.80" height="1.30" fill="#e03070" opacity="0.6"/>
<rect x="288.80" y="323.55" width="2.00" height="1.30" fill="#e860d8" opacity="0.6"/>
<rect x="298.80" y="323.55" width="2.00" height="1.30" fill="#ff7f7f" opacity="0.6"/>
<rect x="303.80" y="323.55" width="2.00" height="1.30" fill="#e03070" opacity="0.6"/>
<rect x="306.80" y="323.55" width="2.00" height="1.30" fill="#ff4060" opacity="0.6"/>
<rect x="309.80" y="323.55" width="1.50" height="1.30" fill="#ff4060" opacity="0.6"/>
<rect x="314.30" y="323.55" width="0.80" height="1.30" fill="#c878ff" opacity="0.6"/>
<rect x="321.40" y="323.55" width="1.00" height="1.30" fill="#ff4060" opacity="0.6"/>
<rect x="322.90" y="323.55" width="1.00" height="1.30" fill="#e03070" opacity="0.6"/>
<rect x="330.70" y="323.55" width="1.00" height="1.30" fill="#ff5090" opacity="0.6"/>
<rect x="334.70" y="323.55" width="1.00" height="1.30" fill="#e03070" opacity="0.6"/>
<rect x="339.20" y="323.55" width="1.50" height="1.30" fill="#e860d8" opacity="0.6"/>
<rect x="341.70" y="323.55" width="2.00" height="1.30" fill="#ff5090" opacity="0.6"/>
<rect x="345.70" y="323.55" width="2.00" height="1.30" fill="#ff5090" opacity="0.6"/>
<rect x="358.00" y="323.55" width="1.50" height="1.30" fill="#ffb060" opacity="0.6"/>
<rect x="360.50" y="323.55" width="1.50" height="1.30" fill="#ff4060" opacity="0.6"/>
<rect x="365.00" y="323.55" width="1.00" height="1.30" fill="#ff7f7f" opacity="0.6"/>
<rect x="368.00" y="323.55" width="1.50" height="1.30" fill="#ffb060" opacity="0.6"/>
<rect x="370.00" y="323.55" width="0.80" height="1.30" fill="#ff5090" opacity="0.6"/>
<rect x="376.30" y="323.55" width="1.00" height="1.30" fill="#ff7f7f" opacity="0.6"/>
<rect x="377.80" y="323.55" width="0.80" height="1.30" fill="#ffb060" opacity="0.6"/>
<rect x="385.40" y="323.55" width="1.00" height="1.30" fill="#e03070" opacity="0.6"/>
<rect x="387.40" y="323.55" width="1.00" height="1.30" fill="#e860d8" opacity="0.6"/>
<rect x="389.40" y="323.55" width="2.00" height="1.30" fill="#c878ff" opacity="0.6"/>
<rect x="403.70" y="323.55" width="1.00" height="1.30" fill="#ff7f7f" opacity="0.6"/>
<rect x="409.00" y="323.55" width="1.00" height="1.30" fill="#ff7f7f" opacity="0.6"/>
<rect x="412.30" y="323.55" width="1.00" height="1.30" fill="#f5d040" opacity="0.6"/>
<rect x="414.30" y="323.55" width="1.50" height="1.30" fill="#ff7f7f" opacity="0.6"/>
<rect x="418.80" y="323.55" width="0.80" height="1.30" fill="#f5d040" opacity="0.6"/>
<rect x="426.40" y="323.55" width="1.00" height="1.30" fill="#ff4060" opacity="0.6"/>
<rect x="434.40" y="323.55" width="0.80" height="1.30" fill="#f5d040" opacity="0.6"/>
<rect x="441.00" y="323.55" width="1.00" height="1.30" fill="#e860d8" opacity="0.6"/>
<rect x="449.00" y="323.55" width="1.00" height="1.30" fill="#e03070" opacity="0.6"/>
<rect x="459.80" y="323.55" width="1.00" height="1.30" fill="#ff4060" opacity="0.6"/>
<rect x="461.80" y="323.55" width="1.00" height="1.30" fill="#ff4060" opacity="0.6"/>
<rect x="463.30" y="323.55" width="1.00" height="1.30" fill="#c878ff" opacity="0.6"/>
<rect x="464.80" y="323.55" width="0.80" height="1.30" fill="#ff7f7f" opacity="0.6"/>
<rect x="466.10" y="323.55" width="0.80" height="1.30" fill="#ffb060" opacity="0.6"/>
<rect x="471.70" y="323.55" width="0.80" height="1.30" fill="#e860d8" opacity="0.6"/>
<rect x="473.00" y="323.55" width="0.80" height="1.30" fill="#ff4060" opacity="0.6"/>
<rect x="475.80" y="323.55" width="2.00" height="1.30" fill="#ff4060" opacity="0.6"/>
<rect x="478.80" y="323.55" width="1.50" height="1.30" fill="#f5d040" opacity="0.6"/>
<rect x="482.30" y="323.55" width="0.80" height="1.30" fill="#ff5090" opacity="0.6"/>
<rect x="490.10" y="323.55" width="2.00" height="1.30" fill="#ff4060" opacity="0.6"/>
<rect x="499.90" y="323.55" width="1.00" height="1.30" fill="#e860d8" opacity="0.6"/>
<rect x="502.90" y="323.55" width="0.80" height="1.30" fill="#e03070" opacity="0.6"/>
<rect x="511.20" y="323.55" width="1.00" height="1.30" fill="#e860d8" opacity="0.6"/>
<rect x="513.20" y="323.55" width="2.00" height="1.30" fill="#ff4060" opacity="0.6"/>
<rect x="521.00" y="323.55" width="0.80" height="1.30" fill="#f5d040" opacity="0.6"/>
<rect x="524.80" y="323.55" width="1.50" height="1.30" fill="#ff5090" opacity="0.6"/>
<rect x="529.30" y="323.55" width="1.00" height="1.30" fill="#e860d8" opacity="0.6"/>
<rect x="541.30" y="323.55" width="1.00" height="1.30" fill="#ff5090" opacity="0.6"/>
<rect x="543.30" y="323.55" width="1.00" height="1.30" fill="#e860d8" opacity="0.6"/>
<rect x="545.30" y="323.55" width="1.50" height="1.30" fill="#c878ff" opacity="0.6"/>
<rect x="550.80" y="323.55" width="1.00" height="1.30" fill="#e860d8" opacity="0.6"/>
<rect x="553.80" y="323.55" width="0.80" height="1.30" fill="#ff4060" opacity="0.6"/>
<rect x="555.60" y="323.55" width="2.00" height="1.30" fill="#c878ff" opacity="0.6"/>
<rect x="559.60" y="323.55" width="1.50" height="1.30" fill="#e860d8" opacity="0.6"/>
<rect x="561.60" y="323.55" width="0.80" height="1.30" fill="#f5d040" opacity="0.6"/>
<rect x="565.40" y="323.55" width="0.80" height="1.30" fill="#f5d040" opacity="0.6"/>
<rect x="567.20" y="323.55" width="1.50" height="1.30" fill="#c878ff" opacity="0.6"/>
<rect x="570.70" y="323.55" width="2.00" height="1.30" fill="#e860d8" opacity="0.6"/>
<rect x="582.70" y="323.55" width="2.00" height="1.30" fill="#ff4060" opacity="0.6"/>
<rect x="594.20" y="323.55" width="2.00" height="1.30" fill="#f5d040" opacity="0.6"/>
<rect x="604.20" y="323.55" width="0.80" height="1.30" fill="#e860d8" opacity="0.6"/>
<rect x="615.30" y="323.55" width="1.50" height="1.30" fill="#e03070" opacity="0.6"/>
<rect x="617.80" y="323.55" width="1.00" height="1.30" fill="#ff4060" opacity="0.6"/>
<rect x="620.80" y="323.55" width="0.80" height="1.30" fill="#f5d040" opacity="0.6"/>
<rect x="624.60" y="323.55" width="0.80" height="1.30" fill="#f5d040" opacity="0.6"/>
<rect x="630.40" y="323.55" width="1.00" height="1.30" fill="#f5d040" opacity="0.6"/>
<rect x="632.40" y="323.55" width="2.00" height="1.30" fill="#c878ff" opacity="0.6"/>
<rect x="640.20" y="323.55" width="1.00" height="1.30" fill="#f5d040" opacity="0.6"/>
<rect x="646.70" y="323.55" width="2.00" height="1.30" fill="#e860d8" opacity="0.6"/>
<rect x="655.70" y="323.55" width="1.00" height="1.30" fill="#ff5090" opacity="0.6"/>
<rect x="661.70" y="323.55" width="2.00" height="1.30" fill="#ff4060" opacity="0.6"/>
<rect x="669.70" y="323.55" width="0.80" height="1.30" fill="#ffb060" opacity="0.6"/>
<rect x="673.50" y="323.55" width="0.80" height="1.30" fill="#ff4060" opacity="0.6"/>
<rect x="678.80" y="323.55" width="1.00" height="1.30" fill="#e03070" opacity="0.6"/>
<rect x="681.80" y="323.55" width="1.00" height="1.30" fill="#f5d040" opacity="0.6"/>
<rect x="103.20" y="323.90" width="0.90" height="0.90" fill="#f5d040" opacity="0.6"/>
<rect x="104.80" y="323.90" width="0.90" height="0.90" fill="#70d8d8" opacity="0.7"/>
<path d="M318.80,324.10L318.80,324.10L319.60,319.60L320.60,317.90L321.60,317.60L322.40,318.60L323.00,320.60L323.50,324.10L323.50,324.10Z" fill="#ff9a50" opacity="1.0"/>
<path d="M319.00,324.10L319.00,324.10L320.00,320.50L321.00,320.10L322.00,321.60L323.00,324.10L323.00,324.10Z" fill="#f07050" opacity="1.0"/>
<path d="M316.20,324.10L316.20,324.10L316.60,310.10L317.00,296.10L317.40,287.50L317.80,298.10L318.20,310.10L318.70,324.10L318.70,324.10Z" fill="#5fd4c8" opacity="1.0"/>
<path d="M314.60,324.10L314.60,324.10L315.40,319.10L316.00,315.10L316.60,311.10L317.20,307.10L317.80,310.10L318.40,314.10L319.00,318.10L319.80,321.10L320.60,324.10L320.60,324.10Z" fill="#2838b0" opacity="1.0"/>
<path d="M314.80,324.10L314.80,324.10L315.60,320.10L316.40,316.10L317.00,312.60L317.60,314.60L318.20,317.10L319.00,320.10L319.80,322.60L320.20,324.10L320.20,324.10Z" fill="#241040" opacity="1.0"/>
<path d="M390.50,324.10L390.50,324.10L390.95,321.73L391.40,319.95L391.85,320.10L392.30,318.52L392.75,318.14L393.20,317.98L393.65,316.45L394.10,316.94L394.55,316.99L395.00,318.07L395.45,316.76L395.90,318.11L396.35,318.48L396.80,319.91L397.25,319.28L397.70,317.32L398.15,319.60L398.60,319.68L399.05,319.10L399.50,319.13L399.95,318.26L400.40,318.10L400.85,319.40L401.30,318.75L401.75,319.28L402.20,319.58L402.65,319.37L403.10,320.22L403.55,320.31L404.00,321.04L404.45,320.68L404.90,320.97L405.35,320.61L405.80,320.62L406.25,320.04L406.70,319.09L407.15,319.69L407.60,318.89L408.05,318.58L408.50,318.36L408.95,317.65L409.40,318.12L409.85,318.93L410.30,318.68L410.75,319.97L411.20,319.16L411.65,320.11L412.10,319.53L412.55,320.85L413.00,320.93L413.45,319.29L413.90,319.36L414.35,320.40L414.80,319.67L415.25,321.06L415.70,320.70L416.15,320.82L416.60,321.79L417.05,322.29L417.50,322.73L417.95,323.57L418.20,324.10L418.20,324.10Z" fill="#ff7f7f" opacity="1.0"/>
<path d="M380.60,324.10L380.60,324.10L381.00,314.10L381.40,308.90L381.90,314.10L382.30,324.10L382.30,324.10Z" fill="#ff7f7f" opacity="1.0"/>
<path d="M379.60,324.10L379.60,324.10L380.20,313.60L380.80,318.10L381.30,324.10L381.30,324.10Z" fill="#a8e8d8" opacity="1.0"/>
<path d="M381.90,324.10L381.90,324.10L382.20,305.90L382.60,290.61L382.90,287.70L383.30,291.34L383.70,305.90L384.00,324.10L384.00,324.10Z" fill="#8ee4cf" opacity="1.0"/>
<path d="M384.40,324.10L384.40,324.10L384.70,310.00L385.10,298.16L385.40,295.90L385.80,298.72L386.20,310.00L386.50,324.10L386.50,324.10Z" fill="#8ee4cf" opacity="1.0"/>
<path d="M386.40,324.10L386.40,324.10L386.70,307.50L387.10,293.56L387.40,290.90L387.80,294.22L388.20,307.50L388.50,324.10L388.50,324.10Z" fill="#8ee4cf" opacity="1.0"/>
<path d="M381.80,324.10L381.80,324.10L382.40,308.10L383.50,307.10L384.30,309.10L385.00,306.10L386.00,308.10L386.80,307.10L387.60,306.10L388.40,311.10L389.60,312.10L390.40,313.10L390.90,324.10L390.90,324.10Z" fill="#9adccf" opacity="0.85"/>
<path d="M404.40,324.10L404.40,324.10L404.90,319.10L405.20,317.10L405.60,320.10L406.00,324.10L406.00,324.10Z" fill="#8ee4cf" opacity="1.0"/>
<path d="M377.80,324.10L377.80,324.10L378.20,319.99L378.60,318.33L379.00,318.02L379.40,317.95L379.80,316.73L380.20,316.61L380.60,316.19L381.00,315.74L381.40,316.12L381.80,314.26L382.20,314.36L382.60,313.00L383.00,312.85L383.40,312.85L383.80,313.61L384.20,312.86L384.60,311.14L385.00,311.06L385.40,309.93L385.80,312.37L386.20,312.87L386.60,313.03L387.00,312.75L387.40,312.19L387.80,313.41L388.20,313.67L388.60,313.19L389.00,315.38L389.40,315.52L389.80,317.94L390.20,319.66L390.60,320.67L391.00,321.78L391.40,322.73L391.80,323.63L392.00,324.10L392.00,324.10Z" fill="#2c2c90" opacity="1.0"/>
<path d="M378.00,324.10L378.00,324.10L378.40,320.84L378.80,319.68L379.20,319.38L379.60,319.46L380.00,318.43L380.40,318.03L380.80,318.30L381.20,317.85L381.60,316.93L382.00,317.05L382.40,316.09L382.80,316.30L383.20,314.69L383.60,314.64L384.00,315.77L384.40,314.41L384.80,313.86L385.20,314.70L385.60,314.14L386.00,313.43L386.40,314.67L386.80,314.86L387.20,313.61L387.60,314.66L388.00,314.10L388.40,315.10L388.80,315.50L389.20,316.67L389.60,318.82L390.00,319.68L390.40,321.52L390.80,322.21L391.20,323.22L391.60,324.10L391.60,324.10L391.60,324.10Z" fill="#241040" opacity="1.0"/>
<path d="M407.00,324.10L407.00,324.10L408.00,318.60L409.00,318.10L409.80,320.10L410.50,324.10L410.50,324.10Z" fill="#b050c0" opacity="1.0"/>
<path d="M391.60,324.10L391.60,324.10L392.05,323.73L392.50,322.69L392.95,322.76L393.40,322.10L393.85,323.01L394.30,322.00L394.75,322.93L395.20,322.75L395.65,322.94L396.10,323.09L396.55,322.28L397.00,322.33L397.45,322.68L397.90,322.16L398.35,322.09L398.80,322.00L399.25,322.70L399.70,322.67L400.15,322.52L400.60,321.68L401.05,322.59L401.50,321.92L401.95,321.41L402.40,321.67L402.85,321.52L403.30,320.97L403.75,321.81L404.20,321.54L404.65,321.92L405.10,322.51L405.55,322.14L406.00,321.87L406.45,322.56L406.90,322.78L407.35,322.08L407.80,322.64L408.25,321.28L408.70,321.37L409.15,321.40L409.60,322.60L410.05,322.34L410.50,322.47L410.95,322.03L411.40,322.32L411.85,322.81L412.30,321.94L412.75,322.00L413.20,321.99L413.65,322.52L414.10,322.95L414.55,322.73L415.00,322.66L415.45,322.99L415.90,323.05L416.35,323.66L416.80,323.69L417.25,323.94L417.50,324.10L417.50,324.10Z" fill="#241040" opacity="1.0"/>
<path d="M420.00,324.10L420.00,324.10L423.00,322.60L426.00,323.10L429.00,322.60L431.00,324.10L431.00,324.10Z" fill="#ff7f7f" opacity="1.0"/>
<path d="M506.50,324.10L506.50,324.10L508.00,322.30L510.00,322.90L512.50,324.10L512.50,324.10Z" fill="#e860d8" opacity="1.0"/>
<path d="M517.00,324.10L517.00,324.10L518.50,323.10L520.00,324.10L520.00,324.10Z" fill="#7070e8" opacity="1.0"/>
<path d="M567.70,324.10L567.70,324.10L568.35,323.38L568.70,322.50L569.05,323.38L569.70,324.10L569.70,324.10Z" fill="#ff7f7f" opacity="1.0"/>
<path d="M582.30,324.10L582.30,324.10L584.00,322.30L586.00,321.90L587.50,322.50L589.00,322.10L591.00,322.70L592.60,324.10L592.60,324.10Z" fill="#ff7f7f" opacity="1.0"/>
<path d="M583.50,324.10L583.50,324.10L585.00,322.30L586.50,324.10L586.50,324.10Z" fill="#78dcc8" opacity="1.0"/>
<path d="M584.50,324.10L584.50,324.10L586.00,322.70L588.00,322.90L589.50,324.10L589.50,324.10Z" fill="#241040" opacity="1.0"/>
<path d="M594.00,324.10L594.00,324.10L595.50,322.90L597.20,324.10L597.20,324.10Z" fill="#ff7f7f" opacity="1.0"/>
<path d="M616.60,324.10L616.60,324.10L617.40,320.50L618.30,321.70L619.40,324.10L619.40,324.10Z" fill="#e860d8" opacity="1.0"/>
<path d="M621.00,324.10L621.00,324.10L622.20,322.10L623.30,321.50L624.50,322.10L625.60,324.10L625.60,324.10Z" fill="#3030c0" opacity="1.0"/>
<path d="M644.30,324.10L644.30,324.10L645.80,322.70L647.20,324.10L647.20,324.10Z" fill="#30308a" opacity="1.0"/>
<path d="M676.60,324.10L676.60,324.10L678.00,322.80L679.40,324.10L679.40,324.10Z" fill="#c878ff" opacity="1.0"/>
<text x="229.00" y="332.80" font-size="6.8" fill="#111" stroke="#111" stroke-width="0.12" textLength="249.00" lengthAdjust="spacingAndGlyphs">Transcription factor ChIP-seq clusters (340 factors, 129 cell types) from ENCODE 3</text>
<rect x="64.50" y="334.40" width="0.50" height="9.50" fill="#ddd"/>
<rect x="71.70" y="334.40" width="1.10" height="9.50" fill="#ddd"/>
<rect x="84.00" y="334.40" width="2.40" height="9.50" fill="#000"/>
<rect x="91.90" y="334.40" width="0.70" height="9.50" fill="#555"/>
<rect x="111.90" y="334.40" width="1.20" height="9.50" fill="#000"/>
<rect x="127.30" y="334.40" width="1.60" height="9.50" fill="#777"/>
<rect x="129.40" y="334.40" width="1.40" height="9.50" fill="#555"/>
<rect x="131.20" y="334.40" width="1.70" height="9.50" fill="#888"/>
<rect x="135.60" y="334.40" width="0.60" height="9.50" fill="#eee"/>
<rect x="141.80" y="334.40" width="1.80" height="9.50" fill="#000"/>
<rect x="146.00" y="334.40" width="2.30" height="9.50" fill="#000"/>
<rect x="152.20" y="334.40" width="0.90" height="9.50" fill="#444"/>
<rect x="158.10" y="334.40" width="0.90" height="9.50" fill="#555"/>
<rect x="163.20" y="334.40" width="0.60" height="9.50" fill="#999"/>
<rect x="166.30" y="334.40" width="2.20" height="9.50" fill="#ccc"/>
<rect x="168.50" y="334.40" width="3.00" height="9.50" fill="#999"/>
<rect x="171.50" y="334.40" width="1.50" height="9.50" fill="#bbb"/>
<rect x="173.00" y="334.40" width="1.50" height="9.50" fill="#ddd"/>
<rect x="176.10" y="334.40" width="4.90" height="9.50" fill="#000"/>
<rect x="183.30" y="334.40" width="3.50" height="9.50" fill="#888"/>
<rect x="191.00" y="334.40" width="0.60" height="9.50" fill="#bbb"/>
<rect x="204.80" y="334.40" width="1.20" height="9.50" fill="#999"/>
<rect x="208.30" y="334.40" width="1.40" height="9.50" fill="#555"/>
<rect x="222.00" y="334.40" width="1.20" height="9.50" fill="#ccc"/>
<rect x="228.50" y="334.40" width="1.20" height="9.50" fill="#aaa"/>
<rect x="231.40" y="334.40" width="1.80" height="9.50" fill="#555"/>
<rect x="234.20" y="334.40" width="1.80" height="9.50" fill="#444"/>
<rect x="238.40" y="334.40" width="1.80" height="9.50" fill="#bbb"/>
<rect x="242.60" y="334.40" width="2.30" height="9.50" fill="#ccc"/>
<rect x="250.00" y="334.40" width="1.00" height="9.50" fill="#000"/>
<rect x="256.60" y="334.40" width="2.80" height="9.50" fill="#888"/>
<rect x="273.10" y="334.40" width="0.60" height="9.50" fill="#ddd"/>
<rect x="275.90" y="334.40" width="0.60" height="9.50" fill="#ddd"/>
<rect x="279.90" y="334.40" width="2.80" height="9.50" fill="#000"/>
<rect x="285.50" y="334.40" width="1.50" height="9.50" fill="#999"/>
<rect x="290.20" y="334.40" width="1.90" height="9.50" fill="#aaa"/>
<rect x="300.30" y="334.40" width="2.30" height="9.50" fill="#ddd"/>
<rect x="309.60" y="334.40" width="4.70" height="9.50" fill="#222"/>
<rect x="314.30" y="334.40" width="9.30" height="9.50" fill="#000"/>
<rect x="327.10" y="334.40" width="2.40" height="9.50" fill="#777"/>
<rect x="331.80" y="334.40" width="4.70" height="9.50" fill="#111"/>
<rect x="348.80" y="334.40" width="2.20" height="9.50" fill="#000"/>
<rect x="359.80" y="334.40" width="2.80" height="9.50" fill="#333"/>
<rect x="366.40" y="334.40" width="3.60" height="9.50" fill="#555"/>
<rect x="370.00" y="334.40" width="4.50" height="9.50" fill="#222"/>
<rect x="374.50" y="334.40" width="12.00" height="9.50" fill="#000"/>
<rect x="386.50" y="334.40" width="6.90" height="9.50" fill="#333"/>
<rect x="393.40" y="334.40" width="4.60" height="9.50" fill="#999"/>
<rect x="399.20" y="334.40" width="8.20" height="9.50" fill="#2a2a2a"/>
<rect x="408.50" y="334.40" width="9.40" height="9.50" fill="#000"/>
<rect x="423.40" y="334.40" width="0.60" height="9.50" fill="#ccc"/>
<rect x="427.20" y="334.40" width="2.40" height="9.50" fill="#e5e5e5"/>
<rect x="434.20" y="334.40" width="3.50" height="9.50" fill="#777"/>
<rect x="438.20" y="334.40" width="1.80" height="9.50" fill="#444"/>
<rect x="440.80" y="334.40" width="2.10" height="9.50" fill="#bbb"/>
<rect x="444.30" y="334.40" width="2.30" height="9.50" fill="#000"/>
<rect x="453.60" y="334.40" width="1.40" height="9.50" fill="#999"/>
<rect x="456.00" y="334.40" width="2.80" height="9.50" fill="#222"/>
<rect x="468.10" y="334.40" width="1.90" height="9.50" fill="#000"/>
<rect x="473.50" y="334.40" width="2.10" height="9.50" fill="#333"/>
<rect x="481.70" y="334.40" width="1.80" height="9.50" fill="#777"/>
<rect x="488.00" y="334.40" width="1.60" height="9.50" fill="#666"/>
<rect x="493.10" y="334.40" width="1.90" height="9.50" fill="#777"/>
<rect x="498.50" y="334.40" width="3.00" height="9.50" fill="#888"/>
<rect x="501.50" y="334.40" width="2.80" height="9.50" fill="#aaa"/>
<rect x="507.80" y="334.40" width="2.20" height="9.50" fill="#777"/>
<rect x="510.00" y="334.40" width="2.50" height="9.50" fill="#555"/>
<rect x="518.30" y="334.40" width="4.70" height="9.50" fill="#111"/>
<rect x="523.00" y="334.40" width="2.30" height="9.50" fill="#888"/>
<rect x="526.20" y="334.40" width="2.30" height="9.50" fill="#333"/>
<rect x="535.50" y="334.40" width="1.60" height="9.50" fill="#bbb"/>
<rect x="538.50" y="334.40" width="1.90" height="9.50" fill="#ccc"/>
<rect x="544.90" y="334.40" width="1.70" height="9.50" fill="#777"/>
<rect x="546.60" y="334.40" width="1.80" height="9.50" fill="#444"/>
<rect x="548.40" y="334.40" width="7.00" height="9.50" fill="#000"/>
<rect x="555.40" y="334.40" width="1.80" height="9.50" fill="#999"/>
<rect x="557.20" y="334.40" width="1.70" height="9.50" fill="#ccc"/>
<rect x="562.40" y="334.40" width="1.40" height="9.50" fill="#ccc"/>
<rect x="569.10" y="334.40" width="0.60" height="9.50" fill="#eee"/>
<rect x="578.70" y="334.40" width="2.30" height="9.50" fill="#888"/>
<rect x="584.10" y="334.40" width="4.00" height="9.50" fill="#000"/>
<rect x="590.40" y="334.40" width="1.20" height="9.50" fill="#ddd"/>
<rect x="595.50" y="334.40" width="1.50" height="9.50" fill="#aaa"/>
<rect x="600.90" y="334.40" width="1.60" height="9.50" fill="#888"/>
<rect x="610.30" y="334.40" width="1.10" height="9.50" fill="#888"/>
<rect x="616.80" y="334.40" width="1.60" height="9.50" fill="#444"/>
<rect x="618.90" y="334.40" width="2.60" height="9.50" fill="#222"/>
<rect x="621.50" y="334.40" width="6.30" height="9.50" fill="#000"/>
<rect x="632.00" y="334.40" width="1.60" height="9.50" fill="#ccc"/>
<rect x="634.30" y="334.40" width="2.40" height="9.50" fill="#aaa"/>
<rect x="638.30" y="334.40" width="2.80" height="9.50" fill="#000"/>
<rect x="643.70" y="334.40" width="3.20" height="9.50" fill="#222"/>
<rect x="650.70" y="334.40" width="4.20" height="9.50" fill="#000"/>
<rect x="656.50" y="334.40" width="2.50" height="9.50" fill="#666"/>
<rect x="659.00" y="334.40" width="2.60" height="9.50" fill="#777"/>
<rect x="662.80" y="334.40" width="2.80" height="9.50" fill="#888"/>
<rect x="667.50" y="334.40" width="2.30" height="9.50" fill="#333"/>
<rect x="674.00" y="334.40" width="1.70" height="9.50" fill="#999"/>
<rect x="675.70" y="334.40" width="5.30" height="9.50" fill="#000"/>
<rect x="681.00" y="334.40" width="1.20" height="9.50" fill="#888"/>
<text x="271.00" y="350.90" font-size="6.8" fill="#468a4e" stroke="#468a4e" stroke-width="0.12" textLength="196.60" lengthAdjust="spacingAndGlyphs">CpG islands on all sequence (Islands &lt; 300 bases are light green)</text>
<text x="315.00" y="359.80" font-size="6.8" fill="#468a4e" stroke="#468a4e" stroke-width="0.12" text-anchor="end">CpG: 75</text>
<rect x="316.10" y="353.40" width="2.90" height="8.40" fill="#006400"/>
<text x="377.60" y="359.80" font-size="6.8" fill="#468a4e" stroke="#468a4e" stroke-width="0.12" text-anchor="end">CpG: 150</text>
<rect x="379.80" y="353.40" width="6.10" height="8.40" fill="#006e00"/>
<text x="633.70" y="359.80" font-size="6.8" fill="#468a4e" stroke="#468a4e" stroke-width="0.12" text-anchor="end">CpG: 26</text>
<rect x="636.40" y="353.40" width="0.70" height="8.60" fill="#78c878"/>
<text x="1.9" y="391.0" font-size="14" font-weight="bold" fill="#000">b</text>
<text transform="translate(32.4,447.9) rotate(-90)" font-size="11" fill="#000" text-anchor="middle">NORS</text>
<text transform="translate(29.7,602.7) rotate(-90)" font-size="11" fill="#000" text-anchor="middle">MKL2</text>
<text x="147.05" y="394.70" font-size="11.5" fill="#141414" text-anchor="middle">rs246185</text>
<line x1="84.10" y1="408.20" x2="84.10" y2="488.50" stroke="#c4c4c4" stroke-width="1"/>
<line x1="77.90" y1="408.20" x2="84.60" y2="408.20" stroke="#c4c4c4" stroke-width="1"/>
<line x1="77.90" y1="488.50" x2="84.60" y2="488.50" stroke="#c4c4c4" stroke-width="1"/>
<line x1="77.90" y1="418.30" x2="84.10" y2="418.30" stroke="#c4c4c4" stroke-width="1"/>
<text x="73.70" y="421.90" font-size="10" fill="#6493b3" text-anchor="end">1.0</text>
<line x1="77.90" y1="433.00" x2="84.10" y2="433.00" stroke="#c4c4c4" stroke-width="1"/>
<text x="73.70" y="436.60" font-size="10" fill="#6493b3" text-anchor="end">0.5</text>
<line x1="77.90" y1="447.40" x2="84.10" y2="447.40" stroke="#c4c4c4" stroke-width="1"/>
<text x="73.70" y="451.00" font-size="10" fill="#6493b3" text-anchor="end">0.0</text>
<line x1="77.90" y1="462.30" x2="84.10" y2="462.30" stroke="#c4c4c4" stroke-width="1"/>
<text x="73.70" y="465.90" font-size="10" fill="#6493b3" text-anchor="end">−0.5</text>
<line x1="77.90" y1="477.30" x2="84.10" y2="477.30" stroke="#c4c4c4" stroke-width="1"/>
<text x="73.70" y="480.90" font-size="10" fill="#6493b3" text-anchor="end">−1.0</text>
<text transform="translate(48.20,448.00) rotate(-90)" font-size="10" fill="#a0b5c0" text-anchor="middle">Norm. expression</text>
<path d="M119.47,414.31C119.56,414.96 119.66,416.98 119.84,418.25C120.02,419.51 120.15,420.68 120.57,421.90C120.98,423.11 121.66,424.33 122.32,425.55C122.98,426.76 123.37,427.37 124.51,429.20C125.65,431.02 127.94,434.06 129.18,436.50C130.42,438.93 131.32,441.61 131.95,443.80C132.59,445.99 132.90,447.93 132.98,449.64C133.05,451.34 132.76,452.55 132.39,454.01C132.03,455.47 131.78,456.45 130.79,458.39C129.79,460.34 127.87,463.26 126.41,465.69C124.95,468.13 123.05,471.05 122.03,472.99C121.01,474.94 120.65,475.91 120.28,477.37C119.90,478.83 119.90,479.98 119.76,481.75C119.63,483.53 119.55,486.98 119.47,488.03C119.40,489.08 119.40,489.08 119.33,488.03C119.25,486.98 119.17,483.53 119.04,481.75C118.90,479.98 118.90,478.83 118.52,477.37C118.15,475.91 117.79,474.94 116.77,472.99C115.75,471.05 113.85,468.13 112.39,465.69C110.93,463.26 109.01,460.34 108.01,458.39C107.02,456.45 106.77,455.47 106.41,454.01C106.04,452.55 105.75,451.34 105.82,449.64C105.90,447.93 106.21,445.99 106.85,443.80C107.48,441.61 108.38,438.93 109.62,436.50C110.86,434.06 113.15,431.02 114.29,429.20C115.43,427.37 115.82,426.76 116.48,425.55C117.14,424.33 117.82,423.11 118.23,421.90C118.65,420.68 118.78,419.51 118.96,418.25C119.14,416.98 119.24,414.96 119.33,414.31C119.41,413.65 119.39,413.65 119.47,414.31Z" fill="#8cc3c3"/>
<path d="M147.52,417.52C147.91,418.13 147.64,419.95 147.81,421.17C147.98,422.38 148.15,423.48 148.54,424.82C148.93,426.16 149.27,427.74 150.15,429.20C151.03,430.66 152.51,432.12 153.80,433.58C155.09,435.04 156.84,436.37 157.89,437.96C158.93,439.54 159.91,441.36 160.08,443.07C160.25,444.77 159.71,446.11 158.91,448.18C158.11,450.24 156.48,453.04 155.26,455.47C154.04,457.91 152.70,460.34 151.61,462.77C150.51,465.21 149.35,468.25 148.69,470.07C148.03,471.90 147.91,472.75 147.67,473.72C147.42,474.70 147.55,475.55 147.23,475.91C146.91,476.28 146.09,476.28 145.77,475.91C145.45,475.55 145.58,474.70 145.33,473.72C145.09,472.75 144.97,471.90 144.31,470.07C143.65,468.25 142.49,465.21 141.39,462.77C140.30,460.34 138.96,457.91 137.74,455.47C136.52,453.04 134.89,450.24 134.09,448.18C133.29,446.11 132.75,444.77 132.92,443.07C133.09,441.36 134.07,439.54 135.11,437.96C136.16,436.37 137.91,435.04 139.20,433.58C140.49,432.12 141.97,430.66 142.85,429.20C143.73,427.74 144.07,426.16 144.46,424.82C144.85,423.48 145.02,422.38 145.19,421.17C145.36,419.95 145.09,418.13 145.48,417.52C145.87,416.91 147.13,416.91 147.52,417.52Z" fill="#8cc3c3"/>
<path d="M175.11,407.59C175.60,408.15 175.28,409.78 175.41,410.95C175.53,412.12 175.43,412.77 175.84,414.60C176.26,416.42 177.06,419.46 177.89,421.90C178.71,424.33 179.66,426.76 180.81,429.20C181.95,431.63 183.65,434.06 184.75,436.50C185.84,438.93 187.01,441.85 187.38,443.80C187.74,445.74 187.62,446.23 186.94,448.18C186.26,450.12 184.63,453.28 183.29,455.47C181.95,457.66 180.20,459.61 178.91,461.31C177.62,463.02 176.28,464.48 175.55,465.69C174.82,466.91 174.72,467.40 174.53,468.61C174.34,469.83 174.41,471.46 174.38,472.99C174.36,474.53 174.58,477.01 174.38,477.81C174.19,478.61 173.41,478.61 173.22,477.81C173.02,477.01 173.24,474.53 173.22,472.99C173.19,471.46 173.26,469.83 173.07,468.61C172.88,467.40 172.78,466.91 172.05,465.69C171.32,464.48 169.98,463.02 168.69,461.31C167.40,459.61 165.65,457.66 164.31,455.47C162.97,453.28 161.34,450.12 160.66,448.18C159.98,446.23 159.86,445.74 160.22,443.80C160.59,441.85 161.76,438.93 162.85,436.50C163.95,434.06 165.65,431.63 166.79,429.20C167.94,426.76 168.89,424.33 169.71,421.90C170.54,419.46 171.34,416.42 171.76,414.60C172.17,412.77 172.07,412.12 172.19,410.95C172.32,409.78 172.00,408.15 172.49,407.59C172.97,407.03 174.63,407.03 175.11,407.59Z" fill="#8cc3c3"/>
<rect x="114.90" y="440.88" width="9.00" height="17.96" fill="#59636a"/>
<rect x="114.90" y="448.76" width="9.00" height="2.34" fill="#ffffff"/>
<rect x="142.00" y="438.83" width="9.00" height="14.89" fill="#59636a"/>
<rect x="142.00" y="443.50" width="9.00" height="2.48" fill="#ffffff"/>
<rect x="169.30" y="435.04" width="9.00" height="15.62" fill="#59636a"/>
<rect x="169.30" y="442.48" width="9.00" height="2.34" fill="#ffffff"/>
<line x1="106.40" y1="493.50" x2="187.60" y2="493.50" stroke="#c4c4c4" stroke-width="1"/>
<line x1="106.40" y1="493.00" x2="106.40" y2="499.10" stroke="#c4c4c4" stroke-width="1"/>
<line x1="187.60" y1="493.00" x2="187.60" y2="499.10" stroke="#c4c4c4" stroke-width="1"/>
<line x1="119.40" y1="493.00" x2="119.40" y2="499.10" stroke="#c4c4c4" stroke-width="1"/>
<line x1="147.20" y1="493.00" x2="147.20" y2="499.10" stroke="#c4c4c4" stroke-width="1"/>
<line x1="174.60" y1="493.00" x2="174.60" y2="499.10" stroke="#c4c4c4" stroke-width="1"/>
<text x="119.70" y="511.00" font-size="10" fill="#a3abb3" text-anchor="middle">TT</text>
<text x="119.70" y="522.80" font-size="10" fill="#74bedb" text-anchor="middle">(310)</text>
<text x="147.50" y="511.00" font-size="10" fill="#a3abb3" text-anchor="middle">TC</text>
<text x="147.50" y="522.80" font-size="10" fill="#74bedb" text-anchor="middle">(157)</text>
<text x="174.90" y="511.00" font-size="10" fill="#a3abb3" text-anchor="middle">CC</text>
<text x="174.90" y="522.80" font-size="10" fill="#74bedb" text-anchor="middle">(79)</text>
<text x="147.10" y="538.90" font-size="10" fill="#f08262" text-anchor="middle"><tspan font-style="italic">p</tspan>-value: 7.64e-7</text>
<text x="307.60" y="394.70" font-size="11.5" fill="#141414" text-anchor="middle">rs246180</text>
<line x1="244.80" y1="408.20" x2="244.80" y2="488.50" stroke="#c4c4c4" stroke-width="1"/>
<line x1="238.60" y1="408.20" x2="245.30" y2="408.20" stroke="#c4c4c4" stroke-width="1"/>
<line x1="238.60" y1="488.50" x2="245.30" y2="488.50" stroke="#c4c4c4" stroke-width="1"/>
<line x1="238.60" y1="418.40" x2="244.80" y2="418.40" stroke="#c4c4c4" stroke-width="1"/>
<text x="234.40" y="422.00" font-size="10" fill="#6493b3" text-anchor="end">1.0</text>
<line x1="238.60" y1="433.30" x2="244.80" y2="433.30" stroke="#c4c4c4" stroke-width="1"/>
<text x="234.40" y="436.90" font-size="10" fill="#6493b3" text-anchor="end">0.5</text>
<line x1="238.60" y1="447.40" x2="244.80" y2="447.40" stroke="#c4c4c4" stroke-width="1"/>
<text x="234.40" y="451.00" font-size="10" fill="#6493b3" text-anchor="end">0.0</text>
<line x1="238.60" y1="462.40" x2="244.80" y2="462.40" stroke="#c4c4c4" stroke-width="1"/>
<text x="234.40" y="466.00" font-size="10" fill="#6493b3" text-anchor="end">−0.5</text>
<line x1="238.60" y1="477.70" x2="244.80" y2="477.70" stroke="#c4c4c4" stroke-width="1"/>
<text x="234.40" y="481.30" font-size="10" fill="#6493b3" text-anchor="end">−1.0</text>
<text transform="translate(208.90,448.00) rotate(-90)" font-size="10" fill="#a0b5c0" text-anchor="middle">Norm. expression</text>
<path d="M280.47,414.31C280.56,414.96 280.66,416.98 280.84,418.25C281.02,419.51 281.15,420.68 281.57,421.90C281.98,423.11 282.66,424.33 283.32,425.55C283.98,426.76 284.37,427.37 285.51,429.20C286.65,431.02 288.94,434.06 290.18,436.50C291.42,438.93 292.32,441.61 292.95,443.80C293.59,445.99 293.90,447.93 293.98,449.64C294.05,451.34 293.76,452.55 293.39,454.01C293.03,455.47 292.78,456.45 291.79,458.39C290.79,460.34 288.87,463.26 287.41,465.69C285.95,468.13 284.05,471.05 283.03,472.99C282.01,474.94 281.65,475.91 281.28,477.37C280.90,478.83 280.90,479.98 280.76,481.75C280.63,483.53 280.55,486.98 280.47,488.03C280.40,489.08 280.40,489.08 280.33,488.03C280.25,486.98 280.17,483.53 280.04,481.75C279.90,479.98 279.90,478.83 279.52,477.37C279.15,475.91 278.79,474.94 277.77,472.99C276.75,471.05 274.85,468.13 273.39,465.69C271.93,463.26 270.01,460.34 269.01,458.39C268.02,456.45 267.77,455.47 267.41,454.01C267.04,452.55 266.75,451.34 266.82,449.64C266.90,447.93 267.21,445.99 267.85,443.80C268.48,441.61 269.38,438.93 270.62,436.50C271.86,434.06 274.15,431.02 275.29,429.20C276.43,427.37 276.82,426.76 277.48,425.55C278.14,424.33 278.82,423.11 279.23,421.90C279.65,420.68 279.78,419.51 279.96,418.25C280.14,416.98 280.24,414.96 280.33,414.31C280.41,413.65 280.39,413.65 280.47,414.31Z" fill="#8cc3c3"/>
<path d="M308.62,417.52C309.01,418.13 308.74,419.95 308.91,421.17C309.08,422.38 309.25,423.48 309.64,424.82C310.03,426.16 310.37,427.74 311.25,429.20C312.13,430.66 313.61,432.12 314.90,433.58C316.19,435.04 317.94,436.30 318.99,437.96C320.03,439.61 320.98,441.80 321.18,443.50C321.37,445.21 320.96,446.18 320.15,448.18C319.35,450.17 317.65,453.04 316.36,455.47C315.07,457.91 313.56,460.46 312.42,462.77C311.27,465.09 310.13,467.64 309.50,469.34C308.87,471.05 308.84,472.09 308.62,472.99C308.40,473.89 308.45,474.45 308.18,474.74C307.92,475.04 307.28,475.04 307.02,474.74C306.75,474.45 306.80,473.89 306.58,472.99C306.36,472.09 306.33,471.05 305.70,469.34C305.07,467.64 303.93,465.09 302.78,462.77C301.64,460.46 300.13,457.91 298.84,455.47C297.55,453.04 295.85,450.17 295.05,448.18C294.24,446.18 293.83,445.21 294.02,443.50C294.22,441.80 295.17,439.61 296.21,437.96C297.26,436.30 299.01,435.04 300.30,433.58C301.59,432.12 303.07,430.66 303.95,429.20C304.83,427.74 305.17,426.16 305.56,424.82C305.95,423.48 306.12,422.38 306.29,421.17C306.46,419.95 306.19,418.13 306.58,417.52C306.97,416.91 308.23,416.91 308.62,417.52Z" fill="#8cc3c3"/>
<path d="M336.01,407.59C336.50,408.15 336.18,409.78 336.31,410.95C336.43,412.12 336.33,412.77 336.74,414.60C337.16,416.42 337.96,419.46 338.79,421.90C339.61,424.33 340.56,426.76 341.71,429.20C342.85,431.63 344.55,434.06 345.65,436.50C346.74,438.93 347.91,441.85 348.28,443.80C348.64,445.74 348.52,446.23 347.84,448.18C347.16,450.12 345.53,453.28 344.19,455.47C342.85,457.66 341.10,459.61 339.81,461.31C338.52,463.02 337.18,464.48 336.45,465.69C335.72,466.91 335.62,467.40 335.43,468.61C335.24,469.83 335.31,471.46 335.28,472.99C335.26,474.53 335.48,477.01 335.28,477.81C335.09,478.61 334.31,478.61 334.12,477.81C333.92,477.01 334.14,474.53 334.12,472.99C334.09,471.46 334.16,469.83 333.97,468.61C333.78,467.40 333.68,466.91 332.95,465.69C332.22,464.48 330.88,463.02 329.59,461.31C328.30,459.61 326.55,457.66 325.21,455.47C323.87,453.28 322.24,450.12 321.56,448.18C320.88,446.23 320.76,445.74 321.12,443.80C321.49,441.85 322.66,438.93 323.75,436.50C324.85,434.06 326.55,431.63 327.69,429.20C328.84,426.76 329.79,424.33 330.61,421.90C331.44,419.46 332.24,416.42 332.66,414.60C333.07,412.77 332.97,412.12 333.09,410.95C333.22,409.78 332.90,408.15 333.39,407.59C333.87,407.03 335.53,407.03 336.01,407.59Z" fill="#8cc3c3"/>
<rect x="275.90" y="440.88" width="9.00" height="17.08" fill="#59636a"/>
<rect x="275.90" y="448.61" width="9.00" height="2.48" fill="#ffffff"/>
<rect x="303.10" y="438.83" width="9.00" height="15.91" fill="#59636a"/>
<rect x="303.10" y="443.50" width="9.00" height="2.48" fill="#ffffff"/>
<rect x="330.20" y="435.91" width="9.00" height="15.91" fill="#59636a"/>
<rect x="330.20" y="442.48" width="9.00" height="2.34" fill="#ffffff"/>
<line x1="267.00" y1="493.50" x2="348.40" y2="493.50" stroke="#c4c4c4" stroke-width="1"/>
<line x1="267.00" y1="493.00" x2="267.00" y2="499.10" stroke="#c4c4c4" stroke-width="1"/>
<line x1="348.40" y1="493.00" x2="348.40" y2="499.10" stroke="#c4c4c4" stroke-width="1"/>
<line x1="280.40" y1="493.00" x2="280.40" y2="499.10" stroke="#c4c4c4" stroke-width="1"/>
<line x1="307.60" y1="493.00" x2="307.60" y2="499.10" stroke="#c4c4c4" stroke-width="1"/>
<line x1="334.70" y1="493.00" x2="334.70" y2="499.10" stroke="#c4c4c4" stroke-width="1"/>
<text x="280.70" y="511.00" font-size="10" fill="#a3abb3" text-anchor="middle">CC</text>
<text x="280.70" y="522.80" font-size="10" fill="#74bedb" text-anchor="middle">(311)</text>
<text x="307.90" y="511.00" font-size="10" fill="#a3abb3" text-anchor="middle">CA</text>
<text x="307.90" y="522.80" font-size="10" fill="#74bedb" text-anchor="middle">(153)</text>
<text x="335.00" y="511.00" font-size="10" fill="#a3abb3" text-anchor="middle">AA</text>
<text x="335.00" y="522.80" font-size="10" fill="#74bedb" text-anchor="middle">(83)</text>
<text x="308.20" y="538.90" font-size="10" fill="#f08262" text-anchor="middle"><tspan font-style="italic">p</tspan>-value: 2.35e-5</text>
<text x="472.60" y="394.70" font-size="11.5" fill="#141414" text-anchor="middle">rs1704528</text>
<line x1="409.80" y1="408.20" x2="409.80" y2="488.50" stroke="#c4c4c4" stroke-width="1"/>
<line x1="403.60" y1="408.20" x2="410.30" y2="408.20" stroke="#c4c4c4" stroke-width="1"/>
<line x1="403.60" y1="488.50" x2="410.30" y2="488.50" stroke="#c4c4c4" stroke-width="1"/>
<line x1="403.60" y1="419.00" x2="409.80" y2="419.00" stroke="#c4c4c4" stroke-width="1"/>
<text x="399.40" y="422.60" font-size="10" fill="#6493b3" text-anchor="end">1.0</text>
<line x1="403.60" y1="436.40" x2="409.80" y2="436.40" stroke="#c4c4c4" stroke-width="1"/>
<text x="399.40" y="440.00" font-size="10" fill="#6493b3" text-anchor="end">0.5</text>
<line x1="403.60" y1="452.20" x2="409.80" y2="452.20" stroke="#c4c4c4" stroke-width="1"/>
<text x="399.40" y="455.80" font-size="10" fill="#6493b3" text-anchor="end">0.0</text>
<line x1="403.60" y1="468.40" x2="409.80" y2="468.40" stroke="#c4c4c4" stroke-width="1"/>
<text x="399.40" y="472.00" font-size="10" fill="#6493b3" text-anchor="end">−0.5</text>
<line x1="403.60" y1="484.90" x2="409.80" y2="484.90" stroke="#c4c4c4" stroke-width="1"/>
<text x="399.40" y="488.50" font-size="10" fill="#6493b3" text-anchor="end">−1.0</text>
<text transform="translate(373.90,448.00) rotate(-90)" font-size="10" fill="#a0b5c0" text-anchor="middle">Norm. expression</text>
<path d="M447.11,427.45C447.86,428.10 447.84,429.88 448.42,431.39C449.00,432.90 449.76,434.43 450.61,436.50C451.46,438.56 452.56,441.36 453.53,443.80C454.50,446.23 455.65,449.03 456.45,451.09C457.25,453.16 457.93,454.74 458.35,456.20C458.76,457.66 459.00,458.52 458.93,459.85C458.86,461.19 458.81,462.53 457.91,464.23C457.01,465.94 454.87,468.13 453.53,470.07C452.19,472.02 450.78,474.33 449.88,475.91C448.98,477.49 448.54,478.76 448.13,479.56C447.71,480.36 448.15,480.54 447.40,480.73C446.64,480.92 444.36,480.92 443.60,480.73C442.85,480.54 443.29,480.36 442.87,479.56C442.46,478.76 442.02,477.49 441.12,475.91C440.22,474.33 438.81,472.02 437.47,470.07C436.13,468.13 433.99,465.94 433.09,464.23C432.19,462.53 432.14,461.19 432.07,459.85C432.00,458.52 432.24,457.66 432.65,456.20C433.07,454.74 433.75,453.16 434.55,451.09C435.35,449.03 436.50,446.23 437.47,443.80C438.44,441.36 439.54,438.56 440.39,436.50C441.24,434.43 442.00,432.90 442.58,431.39C443.16,429.88 443.14,428.10 443.89,427.45C444.65,426.79 446.35,426.79 447.11,427.45Z" fill="#8cc3c3"/>
<path d="M473.18,420.44C473.45,420.92 473.43,422.38 473.62,423.36C473.82,424.33 473.67,424.82 474.35,426.28C475.03,427.74 476.42,430.17 477.71,432.12C479.00,434.06 480.87,436.01 482.09,437.96C483.31,439.90 484.33,441.85 485.01,443.80C485.69,445.74 486.10,447.69 486.18,449.64C486.25,451.58 486.13,453.28 485.45,455.47C484.77,457.66 483.14,460.34 482.09,462.77C481.04,465.21 480.07,467.88 479.17,470.07C478.27,472.26 477.30,474.33 476.69,475.91C476.08,477.49 475.81,478.76 475.52,479.56C475.23,480.36 475.81,480.54 474.94,480.73C474.06,480.92 471.14,480.92 470.26,480.73C469.39,480.54 469.97,480.36 469.68,479.56C469.39,478.76 469.12,477.49 468.51,475.91C467.90,474.33 466.93,472.26 466.03,470.07C465.13,467.88 464.16,465.21 463.11,462.77C462.06,460.34 460.43,457.66 459.75,455.47C459.07,453.28 458.95,451.58 459.02,449.64C459.10,447.69 459.51,445.74 460.19,443.80C460.87,441.85 461.89,439.90 463.11,437.96C464.33,436.01 466.20,434.06 467.49,432.12C468.78,430.17 470.17,427.74 470.85,426.28C471.53,424.82 471.38,424.33 471.58,423.36C471.77,422.38 471.75,420.92 472.02,420.44C472.28,419.95 472.92,419.95 473.18,420.44Z" fill="#8cc3c3"/>
<path d="M499.77,407.59C499.86,408.15 499.96,409.78 500.14,410.95C500.32,412.12 500.41,412.77 500.87,414.60C501.33,416.42 502.18,419.46 502.91,421.90C503.64,424.33 504.20,426.76 505.25,429.20C506.29,431.63 507.97,434.06 509.19,436.50C510.41,438.93 511.87,441.61 512.55,443.80C513.23,445.99 513.35,447.69 513.28,449.64C513.20,451.58 512.91,453.28 512.11,455.47C511.31,457.66 509.68,460.34 508.46,462.77C507.24,465.21 505.90,467.64 504.81,470.07C503.71,472.51 502.62,475.18 501.89,477.37C501.16,479.56 500.78,481.44 500.43,483.21C500.08,484.99 499.91,487.23 499.77,488.03C499.64,488.83 499.76,488.83 499.63,488.03C499.49,487.23 499.32,484.99 498.97,483.21C498.62,481.44 498.24,479.56 497.51,477.37C496.78,475.18 495.69,472.51 494.59,470.07C493.50,467.64 492.16,465.21 490.94,462.77C489.72,460.34 488.09,457.66 487.29,455.47C486.49,453.28 486.20,451.58 486.12,449.64C486.05,447.69 486.17,445.99 486.85,443.80C487.53,441.61 488.99,438.93 490.21,436.50C491.43,434.06 493.11,431.63 494.15,429.20C495.20,426.76 495.76,424.33 496.49,421.90C497.22,419.46 498.07,416.42 498.53,414.60C498.99,412.77 499.08,412.12 499.26,410.95C499.44,409.78 499.54,408.15 499.63,407.59C499.71,407.03 499.69,407.03 499.77,407.59Z" fill="#8cc3c3"/>
<rect x="441.00" y="447.74" width="9.00" height="16.06" fill="#59636a"/>
<rect x="441.00" y="456.64" width="9.00" height="2.48" fill="#ffffff"/>
<rect x="468.10" y="444.82" width="9.00" height="17.96" fill="#59636a"/>
<rect x="468.10" y="451.39" width="9.00" height="2.63" fill="#ffffff"/>
<rect x="495.20" y="439.71" width="9.00" height="17.96" fill="#59636a"/>
<rect x="495.20" y="447.45" width="9.00" height="2.48" fill="#ffffff"/>
<line x1="432.10" y1="493.50" x2="513.40" y2="493.50" stroke="#c4c4c4" stroke-width="1"/>
<line x1="432.10" y1="493.00" x2="432.10" y2="499.10" stroke="#c4c4c4" stroke-width="1"/>
<line x1="513.40" y1="493.00" x2="513.40" y2="499.10" stroke="#c4c4c4" stroke-width="1"/>
<line x1="445.50" y1="493.00" x2="445.50" y2="499.10" stroke="#c4c4c4" stroke-width="1"/>
<line x1="472.60" y1="493.00" x2="472.60" y2="499.10" stroke="#c4c4c4" stroke-width="1"/>
<line x1="499.70" y1="493.00" x2="499.70" y2="499.10" stroke="#c4c4c4" stroke-width="1"/>
<text x="445.80" y="511.00" font-size="10" fill="#a3abb3" text-anchor="middle">CC</text>
<text x="445.80" y="522.80" font-size="10" fill="#74bedb" text-anchor="middle">(81)</text>
<text x="472.90" y="511.00" font-size="10" fill="#a3abb3" text-anchor="middle">CA</text>
<text x="472.90" y="522.80" font-size="10" fill="#74bedb" text-anchor="middle">(156)</text>
<text x="500.00" y="511.00" font-size="10" fill="#a3abb3" text-anchor="middle">AA</text>
<text x="500.00" y="522.80" font-size="10" fill="#74bedb" text-anchor="middle">(313)</text>
<text x="473.20" y="538.90" font-size="10" fill="#f08262" text-anchor="middle"><tspan font-style="italic">p</tspan>-value: 2.02e-6</text>
<text x="636.40" y="394.70" font-size="11.5" fill="#141414" text-anchor="middle">rs1659129</text>
<line x1="573.90" y1="408.20" x2="573.90" y2="488.50" stroke="#c4c4c4" stroke-width="1"/>
<line x1="567.70" y1="408.20" x2="574.40" y2="408.20" stroke="#c4c4c4" stroke-width="1"/>
<line x1="567.70" y1="488.50" x2="574.40" y2="488.50" stroke="#c4c4c4" stroke-width="1"/>
<line x1="567.70" y1="419.00" x2="573.90" y2="419.00" stroke="#c4c4c4" stroke-width="1"/>
<text x="563.50" y="422.60" font-size="10" fill="#6493b3" text-anchor="end">1.0</text>
<line x1="567.70" y1="436.40" x2="573.90" y2="436.40" stroke="#c4c4c4" stroke-width="1"/>
<text x="563.50" y="440.00" font-size="10" fill="#6493b3" text-anchor="end">0.5</text>
<line x1="567.70" y1="452.20" x2="573.90" y2="452.20" stroke="#c4c4c4" stroke-width="1"/>
<text x="563.50" y="455.80" font-size="10" fill="#6493b3" text-anchor="end">0.0</text>
<line x1="567.70" y1="468.40" x2="573.90" y2="468.40" stroke="#c4c4c4" stroke-width="1"/>
<text x="563.50" y="472.00" font-size="10" fill="#6493b3" text-anchor="end">−0.5</text>
<line x1="567.70" y1="484.90" x2="573.90" y2="484.90" stroke="#c4c4c4" stroke-width="1"/>
<text x="563.50" y="488.50" font-size="10" fill="#6493b3" text-anchor="end">−1.0</text>
<text transform="translate(538.00,448.00) rotate(-90)" font-size="10" fill="#a0b5c0" text-anchor="middle">Norm. expression</text>
<path d="M611.01,427.45C611.76,428.10 611.74,429.88 612.32,431.39C612.90,432.90 613.66,434.43 614.51,436.50C615.36,438.56 616.46,441.36 617.43,443.80C618.40,446.23 619.55,449.03 620.35,451.09C621.15,453.16 621.83,454.74 622.25,456.20C622.66,457.66 622.90,458.52 622.83,459.85C622.76,461.19 622.71,462.53 621.81,464.23C620.91,465.94 618.77,468.13 617.43,470.07C616.09,472.02 614.68,474.33 613.78,475.91C612.88,477.49 612.44,478.76 612.03,479.56C611.61,480.36 612.05,480.54 611.30,480.73C610.54,480.92 608.26,480.92 607.50,480.73C606.75,480.54 607.19,480.36 606.77,479.56C606.36,478.76 605.92,477.49 605.02,475.91C604.12,474.33 602.71,472.02 601.37,470.07C600.03,468.13 597.89,465.94 596.99,464.23C596.09,462.53 596.04,461.19 595.97,459.85C595.90,458.52 596.14,457.66 596.55,456.20C596.97,454.74 597.65,453.16 598.45,451.09C599.25,449.03 600.40,446.23 601.37,443.80C602.34,441.36 603.44,438.56 604.29,436.50C605.14,434.43 605.90,432.90 606.48,431.39C607.06,429.88 607.04,428.10 607.79,427.45C608.55,426.79 610.25,426.79 611.01,427.45Z" fill="#8cc3c3"/>
<path d="M636.98,420.44C637.25,420.92 637.23,422.38 637.42,423.36C637.62,424.33 637.47,424.82 638.15,426.28C638.83,427.74 640.22,430.17 641.51,432.12C642.80,434.06 644.67,436.01 645.89,437.96C647.11,439.90 648.13,441.85 648.81,443.80C649.49,445.74 649.90,447.69 649.98,449.64C650.05,451.58 649.93,453.28 649.25,455.47C648.57,457.66 646.94,460.34 645.89,462.77C644.84,465.21 643.87,467.88 642.97,470.07C642.07,472.26 641.10,474.33 640.49,475.91C639.88,477.49 639.61,478.76 639.32,479.56C639.03,480.36 639.61,480.54 638.74,480.73C637.86,480.92 634.94,480.92 634.06,480.73C633.19,480.54 633.77,480.36 633.48,479.56C633.19,478.76 632.92,477.49 632.31,475.91C631.70,474.33 630.73,472.26 629.83,470.07C628.93,467.88 627.96,465.21 626.91,462.77C625.86,460.34 624.23,457.66 623.55,455.47C622.87,453.28 622.75,451.58 622.82,449.64C622.90,447.69 623.31,445.74 623.99,443.80C624.67,441.85 625.69,439.90 626.91,437.96C628.13,436.01 630.00,434.06 631.29,432.12C632.58,430.17 633.97,427.74 634.65,426.28C635.33,424.82 635.18,424.33 635.38,423.36C635.57,422.38 635.55,420.92 635.82,420.44C636.08,419.95 636.72,419.95 636.98,420.44Z" fill="#8cc3c3"/>
<path d="M663.57,407.59C663.66,408.15 663.76,409.78 663.94,410.95C664.12,412.12 664.21,412.77 664.67,414.60C665.13,416.42 665.98,419.46 666.71,421.90C667.44,424.33 668.00,426.76 669.05,429.20C670.09,431.63 671.77,434.06 672.99,436.50C674.21,438.93 675.67,441.61 676.35,443.80C677.03,445.99 677.15,447.69 677.08,449.64C677.00,451.58 676.71,453.28 675.91,455.47C675.11,457.66 673.48,460.34 672.26,462.77C671.04,465.21 669.70,467.64 668.61,470.07C667.51,472.51 666.42,475.18 665.69,477.37C664.96,479.56 664.58,481.44 664.23,483.21C663.88,484.99 663.71,487.23 663.57,488.03C663.44,488.83 663.56,488.83 663.43,488.03C663.29,487.23 663.12,484.99 662.77,483.21C662.42,481.44 662.04,479.56 661.31,477.37C660.58,475.18 659.49,472.51 658.39,470.07C657.30,467.64 655.96,465.21 654.74,462.77C653.52,460.34 651.89,457.66 651.09,455.47C650.29,453.28 650.00,451.58 649.92,449.64C649.85,447.69 649.97,445.99 650.65,443.80C651.33,441.61 652.79,438.93 654.01,436.50C655.23,434.06 656.91,431.63 657.95,429.20C659.00,426.76 659.56,424.33 660.29,421.90C661.02,419.46 661.87,416.42 662.33,414.60C662.79,412.77 662.88,412.12 663.06,410.95C663.24,409.78 663.34,408.15 663.43,407.59C663.51,407.03 663.49,407.03 663.57,407.59Z" fill="#8cc3c3"/>
<rect x="604.90" y="447.74" width="9.00" height="16.93" fill="#59636a"/>
<rect x="604.90" y="457.66" width="9.00" height="2.19" fill="#ffffff"/>
<rect x="631.90" y="444.82" width="9.00" height="17.96" fill="#59636a"/>
<rect x="631.90" y="451.39" width="9.00" height="2.63" fill="#ffffff"/>
<rect x="659.00" y="439.71" width="9.00" height="17.96" fill="#59636a"/>
<rect x="659.00" y="447.45" width="9.00" height="2.48" fill="#ffffff"/>
<line x1="596.00" y1="493.50" x2="677.40" y2="493.50" stroke="#c4c4c4" stroke-width="1"/>
<line x1="596.00" y1="493.00" x2="596.00" y2="499.10" stroke="#c4c4c4" stroke-width="1"/>
<line x1="677.40" y1="493.00" x2="677.40" y2="499.10" stroke="#c4c4c4" stroke-width="1"/>
<line x1="609.40" y1="493.00" x2="609.40" y2="499.10" stroke="#c4c4c4" stroke-width="1"/>
<line x1="636.40" y1="493.00" x2="636.40" y2="499.10" stroke="#c4c4c4" stroke-width="1"/>
<line x1="663.50" y1="493.00" x2="663.50" y2="499.10" stroke="#c4c4c4" stroke-width="1"/>
<text x="609.70" y="511.00" font-size="10" fill="#a3abb3" text-anchor="middle">AA</text>
<text x="609.70" y="522.80" font-size="10" fill="#74bedb" text-anchor="middle">(79)</text>
<text x="636.70" y="511.00" font-size="10" fill="#a3abb3" text-anchor="middle">AG</text>
<text x="636.70" y="522.80" font-size="10" fill="#74bedb" text-anchor="middle">(155)</text>
<text x="663.80" y="511.00" font-size="10" fill="#a3abb3" text-anchor="middle">GG</text>
<text x="663.80" y="522.80" font-size="10" fill="#74bedb" text-anchor="middle">(314)</text>
<text x="637.00" y="538.90" font-size="10" fill="#f08262" text-anchor="middle"><tspan font-style="italic">p</tspan>-value: 1.11e-6</text>
<line x1="79.40" y1="562.60" x2="79.40" y2="642.40" stroke="#c4c4c4" stroke-width="1"/>
<line x1="73.20" y1="562.60" x2="79.90" y2="562.60" stroke="#b4b4b4" stroke-width="1.3"/>
<line x1="73.20" y1="642.40" x2="79.90" y2="642.40" stroke="#c4c4c4" stroke-width="1"/>
<line x1="73.20" y1="562.60" x2="79.40" y2="562.60" stroke="#c4c4c4" stroke-width="1"/>
<text x="69.00" y="566.20" font-size="10" fill="#6493b3" text-anchor="end">2.0</text>
<line x1="73.20" y1="585.20" x2="79.40" y2="585.20" stroke="#c4c4c4" stroke-width="1"/>
<text x="69.00" y="588.80" font-size="10" fill="#6493b3" text-anchor="end">1.0</text>
<line x1="73.20" y1="607.40" x2="79.40" y2="607.40" stroke="#c4c4c4" stroke-width="1"/>
<text x="69.00" y="611.00" font-size="10" fill="#6493b3" text-anchor="end">0.0</text>
<line x1="73.20" y1="630.20" x2="79.40" y2="630.20" stroke="#c4c4c4" stroke-width="1"/>
<text x="69.00" y="633.80" font-size="10" fill="#6493b3" text-anchor="end">−1.0</text>
<text transform="translate(43.50,603.10) rotate(-90)" font-size="10" fill="#a0b5c0" text-anchor="middle">Norm. expression</text>
<path d="M115.07,572.74C115.18,573.35 115.35,575.17 115.58,576.39C115.82,577.60 115.88,578.45 116.46,580.04C117.04,581.62 118.11,583.93 119.09,585.88C120.06,587.82 121.08,589.77 122.30,591.72C123.52,593.66 125.36,595.61 126.39,597.55C127.41,599.50 128.02,601.69 128.43,603.39C128.84,605.10 128.97,606.31 128.87,607.77C128.77,609.23 128.82,610.45 127.85,612.15C126.87,613.86 124.51,616.05 123.03,617.99C121.55,619.94 119.94,621.89 118.94,623.83C117.94,625.78 117.53,627.73 117.04,629.67C116.56,631.62 116.29,633.93 116.02,635.51C115.75,637.09 115.60,638.26 115.44,639.16C115.28,640.06 115.16,640.62 115.07,640.91C114.99,641.20 115.01,641.20 114.93,640.91C114.84,640.62 114.72,640.06 114.56,639.16C114.40,638.26 114.25,637.09 113.98,635.51C113.71,633.93 113.44,631.62 112.96,629.67C112.47,627.73 112.06,625.78 111.06,623.83C110.06,621.89 108.45,619.94 106.97,617.99C105.49,616.05 103.13,613.86 102.15,612.15C101.18,610.45 101.23,609.23 101.13,607.77C101.03,606.31 101.16,605.10 101.57,603.39C101.98,601.69 102.59,599.50 103.61,597.55C104.64,595.61 106.48,593.66 107.70,591.72C108.92,589.77 109.94,587.82 110.91,585.88C111.89,583.93 112.96,581.62 113.54,580.04C114.12,578.45 114.18,577.60 114.42,576.39C114.65,575.17 114.82,573.35 114.93,572.74C115.04,572.13 114.96,572.13 115.07,572.74Z" fill="#8cc3c3"/>
<path d="M142.52,562.52C142.60,563.98 142.54,568.60 142.59,571.28C142.64,573.95 142.57,576.63 142.81,578.58C143.05,580.52 143.46,581.25 144.05,582.96C144.65,584.66 145.34,586.85 146.39,588.80C147.43,590.74 149.06,592.69 150.33,594.64C151.59,596.58 153.05,598.53 153.98,600.47C154.90,602.42 155.68,604.61 155.88,606.31C156.07,608.02 155.95,608.99 155.15,610.69C154.34,612.40 152.42,614.59 151.06,616.53C149.70,618.48 148.14,620.43 146.97,622.37C145.80,624.32 144.73,626.51 144.05,628.21C143.37,629.91 143.12,631.13 142.88,632.59C142.65,634.05 142.71,635.58 142.66,636.97C142.62,638.36 142.70,640.26 142.59,640.91C142.48,641.57 142.12,641.57 142.01,640.91C141.90,640.26 141.98,638.36 141.94,636.97C141.89,635.58 141.95,634.05 141.72,632.59C141.48,631.13 141.23,629.91 140.55,628.21C139.87,626.51 138.80,624.32 137.63,622.37C136.46,620.43 134.90,618.48 133.54,616.53C132.18,614.59 130.26,612.40 129.45,610.69C128.65,608.99 128.53,608.02 128.72,606.31C128.92,604.61 129.70,602.42 130.62,600.47C131.55,598.53 133.01,596.58 134.27,594.64C135.54,592.69 137.17,590.74 138.21,588.80C139.26,586.85 139.95,584.66 140.55,582.96C141.14,581.25 141.55,580.52 141.79,578.58C142.03,576.63 141.96,573.95 142.01,571.28C142.06,568.60 142.00,563.98 142.08,562.52C142.17,561.06 142.43,561.06 142.52,562.52Z" fill="#8cc3c3"/>
<path d="M172.52,589.82C173.74,590.13 173.37,590.91 173.98,591.72C174.59,592.52 175.15,593.18 176.17,594.64C177.19,596.09 179.06,598.77 180.11,600.47C181.16,602.18 181.94,603.52 182.45,604.85C182.96,606.19 183.18,607.29 183.18,608.50C183.18,609.72 183.13,610.57 182.45,612.15C181.77,613.73 180.31,616.05 179.09,617.99C177.87,619.94 176.24,622.13 175.15,623.83C174.05,625.54 173.18,627.00 172.52,628.21C171.86,629.43 171.44,629.91 171.21,631.13C170.97,632.35 171.15,634.05 171.13,635.51C171.12,636.97 171.64,639.16 171.13,639.89C170.62,640.62 168.58,640.62 168.07,639.89C167.56,639.16 168.08,636.97 168.07,635.51C168.05,634.05 168.23,632.35 167.99,631.13C167.76,629.91 167.34,629.43 166.68,628.21C166.02,627.00 165.15,625.54 164.05,623.83C162.96,622.13 161.33,619.94 160.11,617.99C158.89,616.05 157.43,613.73 156.75,612.15C156.07,610.57 156.02,609.72 156.02,608.50C156.02,607.29 156.24,606.19 156.75,604.85C157.26,603.52 158.04,602.18 159.09,600.47C160.14,598.77 162.01,596.09 163.03,594.64C164.05,593.18 164.61,592.52 165.22,591.72C165.83,590.91 165.46,590.13 166.68,589.82C167.90,589.50 171.30,589.50 172.52,589.82Z" fill="#8cc3c3"/>
<rect x="110.50" y="599.01" width="9.00" height="15.77" fill="#59636a"/>
<rect x="110.50" y="606.75" width="9.00" height="2.48" fill="#ffffff"/>
<rect x="137.80" y="600.04" width="9.00" height="14.74" fill="#59636a"/>
<rect x="137.80" y="605.58" width="9.00" height="2.48" fill="#ffffff"/>
<rect x="165.10" y="602.96" width="9.00" height="13.87" fill="#59636a"/>
<rect x="165.10" y="608.65" width="9.00" height="2.34" fill="#ffffff"/>
<line x1="101.60" y1="647.30" x2="183.40" y2="647.30" stroke="#c4c4c4" stroke-width="1"/>
<line x1="101.60" y1="646.80" x2="101.60" y2="652.90" stroke="#c4c4c4" stroke-width="1"/>
<line x1="183.40" y1="646.80" x2="183.40" y2="652.90" stroke="#c4c4c4" stroke-width="1"/>
<line x1="115.00" y1="646.80" x2="115.00" y2="652.90" stroke="#c4c4c4" stroke-width="1"/>
<line x1="142.30" y1="646.80" x2="142.30" y2="652.90" stroke="#c4c4c4" stroke-width="1"/>
<line x1="169.60" y1="646.80" x2="169.60" y2="652.90" stroke="#c4c4c4" stroke-width="1"/>
<text x="115.30" y="665.00" font-size="10" fill="#a3abb3" text-anchor="middle">TT</text>
<text x="115.30" y="677.20" font-size="10" fill="#74bedb" text-anchor="middle">(310)</text>
<text x="142.60" y="665.00" font-size="10" fill="#a3abb3" text-anchor="middle">TC</text>
<text x="142.60" y="677.20" font-size="10" fill="#74bedb" text-anchor="middle">(157)</text>
<text x="169.90" y="665.00" font-size="10" fill="#a3abb3" text-anchor="middle">CC</text>
<text x="169.90" y="677.20" font-size="10" fill="#74bedb" text-anchor="middle">(79)</text>
<text x="142.90" y="693.00" font-size="10" fill="#969696" text-anchor="middle"><tspan font-style="italic">p</tspan>-value: 1.45e-1</text>
<line x1="244.80" y1="562.60" x2="244.80" y2="642.40" stroke="#c4c4c4" stroke-width="1"/>
<line x1="238.60" y1="562.60" x2="245.30" y2="562.60" stroke="#b4b4b4" stroke-width="1.3"/>
<line x1="238.60" y1="642.40" x2="245.30" y2="642.40" stroke="#c4c4c4" stroke-width="1"/>
<line x1="238.60" y1="562.60" x2="244.80" y2="562.60" stroke="#c4c4c4" stroke-width="1"/>
<text x="234.40" y="566.20" font-size="10" fill="#6493b3" text-anchor="end">2.0</text>
<line x1="238.60" y1="585.20" x2="244.80" y2="585.20" stroke="#c4c4c4" stroke-width="1"/>
<text x="234.40" y="588.80" font-size="10" fill="#6493b3" text-anchor="end">1.0</text>
<line x1="238.60" y1="607.40" x2="244.80" y2="607.40" stroke="#c4c4c4" stroke-width="1"/>
<text x="234.40" y="611.00" font-size="10" fill="#6493b3" text-anchor="end">0.0</text>
<line x1="238.60" y1="630.20" x2="244.80" y2="630.20" stroke="#c4c4c4" stroke-width="1"/>
<text x="234.40" y="633.80" font-size="10" fill="#6493b3" text-anchor="end">−1.0</text>
<text transform="translate(208.90,603.10) rotate(-90)" font-size="10" fill="#a0b5c0" text-anchor="middle">Norm. expression</text>
<path d="M280.47,572.74C280.58,573.35 280.75,575.17 280.98,576.39C281.22,577.60 281.28,578.45 281.86,580.04C282.44,581.62 283.39,583.93 284.49,585.88C285.58,587.82 287.16,589.77 288.43,591.72C289.69,593.66 291.18,595.61 292.08,597.55C292.98,599.50 293.47,601.81 293.83,603.39C294.20,604.98 294.37,605.58 294.27,607.04C294.17,608.50 294.05,610.33 293.25,612.15C292.44,613.98 290.74,616.05 289.45,617.99C288.16,619.94 286.41,622.13 285.51,623.83C284.61,625.54 284.54,626.75 284.05,628.21C283.56,629.67 282.93,631.50 282.59,632.59C282.25,633.69 282.64,634.42 282.01,634.78C281.37,635.15 279.43,635.15 278.79,634.78C278.16,634.42 278.55,633.69 278.21,632.59C277.87,631.50 277.24,629.67 276.75,628.21C276.26,626.75 276.19,625.54 275.29,623.83C274.39,622.13 272.64,619.94 271.35,617.99C270.06,616.05 268.36,613.98 267.55,612.15C266.75,610.33 266.63,608.50 266.53,607.04C266.43,605.58 266.60,604.98 266.97,603.39C267.33,601.81 267.82,599.50 268.72,597.55C269.62,595.61 271.11,593.66 272.37,591.72C273.64,589.77 275.22,587.82 276.31,585.88C277.41,583.93 278.36,581.62 278.94,580.04C279.52,578.45 279.58,577.60 279.82,576.39C280.05,575.17 280.22,573.35 280.33,572.74C280.44,572.13 280.36,572.13 280.47,572.74Z" fill="#8cc3c3"/>
<path d="M307.82,562.52C307.90,563.98 307.84,568.60 307.89,571.28C307.94,573.95 307.87,576.63 308.11,578.58C308.35,580.52 308.76,581.25 309.35,582.96C309.95,584.66 310.64,586.85 311.69,588.80C312.73,590.74 314.36,592.69 315.63,594.64C316.89,596.58 318.35,598.53 319.28,600.47C320.20,602.42 320.98,604.61 321.18,606.31C321.37,608.02 321.25,608.99 320.45,610.69C319.64,612.40 317.72,614.59 316.36,616.53C315.00,618.48 313.44,620.43 312.27,622.37C311.10,624.32 310.03,626.51 309.35,628.21C308.67,629.91 308.42,631.13 308.18,632.59C307.95,634.05 308.01,635.58 307.96,636.97C307.92,638.36 308.00,640.26 307.89,640.91C307.78,641.57 307.42,641.57 307.31,640.91C307.20,640.26 307.28,638.36 307.24,636.97C307.19,635.58 307.25,634.05 307.02,632.59C306.78,631.13 306.53,629.91 305.85,628.21C305.17,626.51 304.10,624.32 302.93,622.37C301.76,620.43 300.20,618.48 298.84,616.53C297.48,614.59 295.56,612.40 294.75,610.69C293.95,608.99 293.83,608.02 294.02,606.31C294.22,604.61 295.00,602.42 295.92,600.47C296.85,598.53 298.31,596.58 299.57,594.64C300.84,592.69 302.47,590.74 303.51,588.80C304.56,586.85 305.25,584.66 305.85,582.96C306.44,581.25 306.85,580.52 307.09,578.58C307.33,576.63 307.26,573.95 307.31,571.28C307.36,568.60 307.30,563.98 307.38,562.52C307.47,561.06 307.73,561.06 307.82,562.52Z" fill="#8cc3c3"/>
<path d="M337.62,589.82C338.84,590.13 338.47,590.91 339.08,591.72C339.69,592.52 340.25,593.18 341.27,594.64C342.29,596.09 344.16,598.77 345.21,600.47C346.26,602.18 347.04,603.52 347.55,604.85C348.06,606.19 348.28,607.29 348.28,608.50C348.28,609.72 348.23,610.57 347.55,612.15C346.87,613.73 345.41,616.05 344.19,617.99C342.97,619.94 341.34,622.13 340.25,623.83C339.15,625.54 338.28,627.00 337.62,628.21C336.96,629.43 336.54,629.91 336.31,631.13C336.07,632.35 336.25,634.05 336.23,635.51C336.22,636.97 336.74,639.16 336.23,639.89C335.72,640.62 333.68,640.62 333.17,639.89C332.66,639.16 333.18,636.97 333.17,635.51C333.15,634.05 333.33,632.35 333.09,631.13C332.86,629.91 332.44,629.43 331.78,628.21C331.12,627.00 330.25,625.54 329.15,623.83C328.06,622.13 326.43,619.94 325.21,617.99C323.99,616.05 322.53,613.73 321.85,612.15C321.17,610.57 321.12,609.72 321.12,608.50C321.12,607.29 321.34,606.19 321.85,604.85C322.36,603.52 323.14,602.18 324.19,600.47C325.24,598.77 327.11,596.09 328.13,594.64C329.15,593.18 329.71,592.52 330.32,591.72C330.93,590.91 330.56,590.13 331.78,589.82C333.00,589.50 336.40,589.50 337.62,589.82Z" fill="#8cc3c3"/>
<rect x="275.90" y="600.04" width="9.00" height="14.74" fill="#59636a"/>
<rect x="275.90" y="605.88" width="9.00" height="2.19" fill="#ffffff"/>
<rect x="303.10" y="600.04" width="9.00" height="14.74" fill="#59636a"/>
<rect x="303.10" y="605.88" width="9.00" height="2.19" fill="#ffffff"/>
<rect x="330.20" y="602.96" width="9.00" height="14.74" fill="#59636a"/>
<rect x="330.20" y="608.94" width="9.00" height="2.04" fill="#ffffff"/>
<line x1="267.00" y1="647.30" x2="348.40" y2="647.30" stroke="#c4c4c4" stroke-width="1"/>
<line x1="267.00" y1="646.80" x2="267.00" y2="652.90" stroke="#c4c4c4" stroke-width="1"/>
<line x1="348.40" y1="646.80" x2="348.40" y2="652.90" stroke="#c4c4c4" stroke-width="1"/>
<line x1="280.40" y1="646.80" x2="280.40" y2="652.90" stroke="#c4c4c4" stroke-width="1"/>
<line x1="307.60" y1="646.80" x2="307.60" y2="652.90" stroke="#c4c4c4" stroke-width="1"/>
<line x1="334.70" y1="646.80" x2="334.70" y2="652.90" stroke="#c4c4c4" stroke-width="1"/>
<text x="280.70" y="665.00" font-size="10" fill="#a3abb3" text-anchor="middle">CC</text>
<text x="280.70" y="677.20" font-size="10" fill="#74bedb" text-anchor="middle">(311)</text>
<text x="307.90" y="665.00" font-size="10" fill="#a3abb3" text-anchor="middle">CA</text>
<text x="307.90" y="677.20" font-size="10" fill="#74bedb" text-anchor="middle">(153)</text>
<text x="335.00" y="665.00" font-size="10" fill="#a3abb3" text-anchor="middle">AA</text>
<text x="335.00" y="677.20" font-size="10" fill="#74bedb" text-anchor="middle">(83)</text>
<text x="308.20" y="693.00" font-size="10" fill="#969696" text-anchor="middle"><tspan font-style="italic">p</tspan>-value: 6.82e-2</text>
<line x1="409.80" y1="562.60" x2="409.80" y2="642.40" stroke="#c4c4c4" stroke-width="1"/>
<line x1="403.60" y1="562.60" x2="410.30" y2="562.60" stroke="#b4b4b4" stroke-width="1.3"/>
<line x1="403.60" y1="642.40" x2="410.30" y2="642.40" stroke="#c4c4c4" stroke-width="1"/>
<line x1="403.60" y1="562.60" x2="409.80" y2="562.60" stroke="#c4c4c4" stroke-width="1"/>
<text x="399.40" y="566.20" font-size="10" fill="#6493b3" text-anchor="end">2.0</text>
<line x1="403.60" y1="585.20" x2="409.80" y2="585.20" stroke="#c4c4c4" stroke-width="1"/>
<text x="399.40" y="588.80" font-size="10" fill="#6493b3" text-anchor="end">1.0</text>
<line x1="403.60" y1="607.40" x2="409.80" y2="607.40" stroke="#c4c4c4" stroke-width="1"/>
<text x="399.40" y="611.00" font-size="10" fill="#6493b3" text-anchor="end">0.0</text>
<line x1="403.60" y1="630.20" x2="409.80" y2="630.20" stroke="#c4c4c4" stroke-width="1"/>
<text x="399.40" y="633.80" font-size="10" fill="#6493b3" text-anchor="end">−1.0</text>
<text transform="translate(373.90,603.10) rotate(-90)" font-size="10" fill="#a0b5c0" text-anchor="middle">Norm. expression</text>
<path d="M445.94,579.60C446.16,580.04 446.18,581.42 446.38,582.23C446.57,583.03 446.52,583.32 447.11,584.42C447.69,585.51 448.64,587.09 449.88,588.80C451.12,590.50 453.14,592.69 454.55,594.64C455.96,596.58 457.59,598.89 458.35,600.47C459.10,602.06 459.15,602.91 459.08,604.12C459.00,605.34 458.59,606.19 457.91,607.77C457.23,609.36 455.96,611.67 454.99,613.61C454.02,615.56 452.97,617.51 452.07,619.45C451.17,621.40 450.32,623.59 449.59,625.29C448.86,627.00 448.10,628.58 447.69,629.67C447.28,630.77 447.74,631.50 447.11,631.86C446.47,632.23 444.53,632.23 443.89,631.86C443.26,631.50 443.72,630.77 443.31,629.67C442.90,628.58 442.14,627.00 441.41,625.29C440.68,623.59 439.83,621.40 438.93,619.45C438.03,617.51 436.98,615.56 436.01,613.61C435.04,611.67 433.77,609.36 433.09,607.77C432.41,606.19 432.00,605.34 431.92,604.12C431.85,602.91 431.90,602.06 432.65,600.47C433.41,598.89 435.04,596.58 436.45,594.64C437.86,592.69 439.88,590.50 441.12,588.80C442.36,587.09 443.31,585.51 443.89,584.42C444.48,583.32 444.43,583.03 444.62,582.23C444.82,581.42 444.84,580.04 445.06,579.60C445.28,579.16 445.72,579.16 445.94,579.60Z" fill="#8cc3c3"/>
<path d="M472.82,562.52C472.90,563.73 472.82,567.51 472.89,569.82C472.96,572.13 473.01,574.44 473.26,576.39C473.50,578.33 473.61,579.67 474.35,581.50C475.09,583.32 476.49,585.39 477.71,587.34C478.93,589.28 480.43,591.23 481.65,593.18C482.87,595.12 484.25,597.07 485.01,599.01C485.76,600.96 486.05,603.15 486.18,604.85C486.30,606.56 486.42,607.53 485.74,609.23C485.06,610.94 483.35,613.13 482.09,615.07C480.82,617.02 479.15,618.97 478.15,620.91C477.15,622.86 476.69,624.81 476.10,626.75C475.52,628.70 475.03,630.64 474.64,632.59C474.25,634.54 473.96,637.04 473.77,638.43C473.57,639.82 473.82,640.50 473.48,640.91C473.14,641.33 472.06,641.33 471.72,640.91C471.38,640.50 471.63,639.82 471.43,638.43C471.24,637.04 470.95,634.54 470.56,632.59C470.17,630.64 469.68,628.70 469.10,626.75C468.51,624.81 468.05,622.86 467.05,620.91C466.05,618.97 464.38,617.02 463.11,615.07C461.85,613.13 460.14,610.94 459.46,609.23C458.78,607.53 458.90,606.56 459.02,604.85C459.15,603.15 459.44,600.96 460.19,599.01C460.95,597.07 462.33,595.12 463.55,593.18C464.77,591.23 466.27,589.28 467.49,587.34C468.71,585.39 470.11,583.32 470.85,581.50C471.59,579.67 471.70,578.33 471.94,576.39C472.19,574.44 472.24,572.13 472.31,569.82C472.38,567.51 472.30,563.73 472.38,562.52C472.47,561.30 472.73,561.30 472.82,562.52Z" fill="#8cc3c3"/>
<path d="M499.92,567.63C500.03,568.72 500.03,572.37 500.14,574.20C500.25,576.02 500.21,577.12 500.58,578.58C500.94,580.04 501.50,581.25 502.33,582.96C503.15,584.66 504.47,586.85 505.54,588.80C506.61,590.74 507.73,592.69 508.75,594.64C509.77,596.58 510.92,598.53 511.67,600.47C512.43,602.42 513.01,604.73 513.28,606.31C513.54,607.90 513.84,608.50 513.28,609.96C512.72,611.42 511.16,613.25 509.92,615.07C508.68,616.90 507.05,618.97 505.83,620.91C504.61,622.86 503.45,624.81 502.62,626.75C501.79,628.70 501.28,630.64 500.87,632.59C500.45,634.54 500.28,637.04 500.14,638.43C499.99,639.82 500.11,640.50 499.99,640.91C499.87,641.33 499.53,641.33 499.41,640.91C499.29,640.50 499.41,639.82 499.26,638.43C499.12,637.04 498.95,634.54 498.53,632.59C498.12,630.64 497.61,628.70 496.78,626.75C495.95,624.81 494.79,622.86 493.57,620.91C492.35,618.97 490.72,616.90 489.48,615.07C488.24,613.25 486.68,611.42 486.12,609.96C485.56,608.50 485.86,607.90 486.12,606.31C486.39,604.73 486.97,602.42 487.73,600.47C488.48,598.53 489.63,596.58 490.65,594.64C491.67,592.69 492.79,590.74 493.86,588.80C494.93,586.85 496.25,584.66 497.07,582.96C497.90,581.25 498.46,580.04 498.82,578.58C499.19,577.12 499.15,576.02 499.26,574.20C499.37,572.37 499.37,568.72 499.48,567.63C499.59,566.53 499.81,566.53 499.92,567.63Z" fill="#8cc3c3"/>
<rect x="441.00" y="600.91" width="9.00" height="12.70" fill="#59636a"/>
<rect x="441.00" y="604.85" width="9.00" height="2.19" fill="#ffffff"/>
<rect x="468.10" y="600.04" width="9.00" height="14.74" fill="#59636a"/>
<rect x="468.10" y="605.88" width="9.00" height="2.19" fill="#ffffff"/>
<rect x="495.20" y="600.04" width="9.00" height="15.77" fill="#59636a"/>
<rect x="495.20" y="606.75" width="9.00" height="2.19" fill="#ffffff"/>
<line x1="432.10" y1="647.30" x2="513.40" y2="647.30" stroke="#c4c4c4" stroke-width="1"/>
<line x1="432.10" y1="646.80" x2="432.10" y2="652.90" stroke="#c4c4c4" stroke-width="1"/>
<line x1="513.40" y1="646.80" x2="513.40" y2="652.90" stroke="#c4c4c4" stroke-width="1"/>
<line x1="445.50" y1="646.80" x2="445.50" y2="652.90" stroke="#c4c4c4" stroke-width="1"/>
<line x1="472.60" y1="646.80" x2="472.60" y2="652.90" stroke="#c4c4c4" stroke-width="1"/>
<line x1="499.70" y1="646.80" x2="499.70" y2="652.90" stroke="#c4c4c4" stroke-width="1"/>
<text x="445.80" y="665.00" font-size="10" fill="#a3abb3" text-anchor="middle">CC</text>
<text x="445.80" y="677.20" font-size="10" fill="#74bedb" text-anchor="middle">(81)</text>
<text x="472.90" y="665.00" font-size="10" fill="#a3abb3" text-anchor="middle">CA</text>
<text x="472.90" y="677.20" font-size="10" fill="#74bedb" text-anchor="middle">(156)</text>
<text x="500.00" y="665.00" font-size="10" fill="#a3abb3" text-anchor="middle">AA</text>
<text x="500.00" y="677.20" font-size="10" fill="#74bedb" text-anchor="middle">(313)</text>
<text x="473.20" y="693.00" font-size="10" fill="#969696" text-anchor="middle"><tspan font-style="italic">p</tspan>-value: 9.83e-1</text>
<line x1="573.90" y1="562.60" x2="573.90" y2="642.40" stroke="#c4c4c4" stroke-width="1"/>
<line x1="567.70" y1="562.60" x2="574.40" y2="562.60" stroke="#b4b4b4" stroke-width="1.3"/>
<line x1="567.70" y1="642.40" x2="574.40" y2="642.40" stroke="#c4c4c4" stroke-width="1"/>
<line x1="567.70" y1="562.60" x2="573.90" y2="562.60" stroke="#c4c4c4" stroke-width="1"/>
<text x="563.50" y="566.20" font-size="10" fill="#6493b3" text-anchor="end">2.0</text>
<line x1="567.70" y1="585.20" x2="573.90" y2="585.20" stroke="#c4c4c4" stroke-width="1"/>
<text x="563.50" y="588.80" font-size="10" fill="#6493b3" text-anchor="end">1.0</text>
<line x1="567.70" y1="607.40" x2="573.90" y2="607.40" stroke="#c4c4c4" stroke-width="1"/>
<text x="563.50" y="611.00" font-size="10" fill="#6493b3" text-anchor="end">0.0</text>
<line x1="567.70" y1="630.20" x2="573.90" y2="630.20" stroke="#c4c4c4" stroke-width="1"/>
<text x="563.50" y="633.80" font-size="10" fill="#6493b3" text-anchor="end">−1.0</text>
<text transform="translate(538.00,603.10) rotate(-90)" font-size="10" fill="#a0b5c0" text-anchor="middle">Norm. expression</text>
<path d="M609.84,579.60C610.06,580.04 610.08,581.42 610.28,582.23C610.47,583.03 610.42,583.32 611.01,584.42C611.59,585.51 612.54,587.09 613.78,588.80C615.02,590.50 617.04,592.69 618.45,594.64C619.86,596.58 621.49,598.89 622.25,600.47C623.00,602.06 623.05,602.91 622.98,604.12C622.90,605.34 622.49,606.19 621.81,607.77C621.13,609.36 619.86,611.67 618.89,613.61C617.92,615.56 616.87,617.51 615.97,619.45C615.07,621.40 614.22,623.59 613.49,625.29C612.76,627.00 612.00,628.58 611.59,629.67C611.18,630.77 611.64,631.50 611.01,631.86C610.37,632.23 608.43,632.23 607.79,631.86C607.16,631.50 607.62,630.77 607.21,629.67C606.80,628.58 606.04,627.00 605.31,625.29C604.58,623.59 603.73,621.40 602.83,619.45C601.93,617.51 600.88,615.56 599.91,613.61C598.94,611.67 597.67,609.36 596.99,607.77C596.31,606.19 595.90,605.34 595.82,604.12C595.75,602.91 595.80,602.06 596.55,600.47C597.31,598.89 598.94,596.58 600.35,594.64C601.76,592.69 603.78,590.50 605.02,588.80C606.26,587.09 607.21,585.51 607.79,584.42C608.38,583.32 608.33,583.03 608.52,582.23C608.72,581.42 608.74,580.04 608.96,579.60C609.18,579.16 609.62,579.16 609.84,579.60Z" fill="#8cc3c3"/>
<path d="M636.62,562.52C636.70,563.73 636.62,567.51 636.69,569.82C636.76,572.13 636.81,574.44 637.06,576.39C637.30,578.33 637.41,579.67 638.15,581.50C638.89,583.32 640.29,585.39 641.51,587.34C642.73,589.28 644.23,591.23 645.45,593.18C646.67,595.12 648.05,597.07 648.81,599.01C649.56,600.96 649.85,603.15 649.98,604.85C650.10,606.56 650.22,607.53 649.54,609.23C648.86,610.94 647.15,613.13 645.89,615.07C644.62,617.02 642.95,618.97 641.95,620.91C640.95,622.86 640.49,624.81 639.90,626.75C639.32,628.70 638.83,630.64 638.44,632.59C638.05,634.54 637.76,637.04 637.57,638.43C637.37,639.82 637.62,640.50 637.28,640.91C636.94,641.33 635.86,641.33 635.52,640.91C635.18,640.50 635.43,639.82 635.23,638.43C635.04,637.04 634.75,634.54 634.36,632.59C633.97,630.64 633.48,628.70 632.90,626.75C632.31,624.81 631.85,622.86 630.85,620.91C629.85,618.97 628.18,617.02 626.91,615.07C625.65,613.13 623.94,610.94 623.26,609.23C622.58,607.53 622.70,606.56 622.82,604.85C622.95,603.15 623.24,600.96 623.99,599.01C624.75,597.07 626.13,595.12 627.35,593.18C628.57,591.23 630.07,589.28 631.29,587.34C632.51,585.39 633.91,583.32 634.65,581.50C635.39,579.67 635.50,578.33 635.74,576.39C635.99,574.44 636.04,572.13 636.11,569.82C636.18,567.51 636.10,563.73 636.18,562.52C636.27,561.30 636.53,561.30 636.62,562.52Z" fill="#8cc3c3"/>
<path d="M663.72,567.63C663.83,568.72 663.83,572.37 663.94,574.20C664.05,576.02 664.01,577.12 664.38,578.58C664.74,580.04 665.30,581.25 666.13,582.96C666.95,584.66 668.27,586.85 669.34,588.80C670.41,590.74 671.53,592.69 672.55,594.64C673.57,596.58 674.72,598.53 675.47,600.47C676.23,602.42 676.81,604.73 677.08,606.31C677.34,607.90 677.64,608.50 677.08,609.96C676.52,611.42 674.96,613.25 673.72,615.07C672.48,616.90 670.85,618.97 669.63,620.91C668.41,622.86 667.25,624.81 666.42,626.75C665.59,628.70 665.08,630.64 664.67,632.59C664.25,634.54 664.08,637.04 663.94,638.43C663.79,639.82 663.91,640.50 663.79,640.91C663.67,641.33 663.33,641.33 663.21,640.91C663.09,640.50 663.21,639.82 663.06,638.43C662.92,637.04 662.75,634.54 662.33,632.59C661.92,630.64 661.41,628.70 660.58,626.75C659.75,624.81 658.59,622.86 657.37,620.91C656.15,618.97 654.52,616.90 653.28,615.07C652.04,613.25 650.48,611.42 649.92,609.96C649.36,608.50 649.66,607.90 649.92,606.31C650.19,604.73 650.77,602.42 651.53,600.47C652.28,598.53 653.43,596.58 654.45,594.64C655.47,592.69 656.59,590.74 657.66,588.80C658.73,586.85 660.05,584.66 660.87,582.96C661.70,581.25 662.26,580.04 662.62,578.58C662.99,577.12 662.95,576.02 663.06,574.20C663.17,572.37 663.17,568.72 663.28,567.63C663.39,566.53 663.61,566.53 663.72,567.63Z" fill="#8cc3c3"/>
<rect x="604.90" y="600.91" width="9.00" height="13.87" fill="#59636a"/>
<rect x="604.90" y="604.85" width="9.00" height="2.19" fill="#ffffff"/>
<rect x="631.90" y="600.04" width="9.00" height="14.74" fill="#59636a"/>
<rect x="631.90" y="605.88" width="9.00" height="2.19" fill="#ffffff"/>
<rect x="659.00" y="600.04" width="9.00" height="15.77" fill="#59636a"/>
<rect x="659.00" y="606.75" width="9.00" height="2.19" fill="#ffffff"/>
<line x1="596.00" y1="647.30" x2="677.40" y2="647.30" stroke="#c4c4c4" stroke-width="1"/>
<line x1="596.00" y1="646.80" x2="596.00" y2="652.90" stroke="#c4c4c4" stroke-width="1"/>
<line x1="677.40" y1="646.80" x2="677.40" y2="652.90" stroke="#c4c4c4" stroke-width="1"/>
<line x1="609.40" y1="646.80" x2="609.40" y2="652.90" stroke="#c4c4c4" stroke-width="1"/>
<line x1="636.40" y1="646.80" x2="636.40" y2="652.90" stroke="#c4c4c4" stroke-width="1"/>
<line x1="663.50" y1="646.80" x2="663.50" y2="652.90" stroke="#c4c4c4" stroke-width="1"/>
<text x="609.70" y="665.00" font-size="10" fill="#a3abb3" text-anchor="middle">AA</text>
<text x="609.70" y="677.20" font-size="10" fill="#74bedb" text-anchor="middle">(79)</text>
<text x="636.70" y="665.00" font-size="10" fill="#a3abb3" text-anchor="middle">AG</text>
<text x="636.70" y="677.20" font-size="10" fill="#74bedb" text-anchor="middle">(155)</text>
<text x="663.80" y="665.00" font-size="10" fill="#a3abb3" text-anchor="middle">GG</text>
<text x="663.80" y="677.20" font-size="10" fill="#74bedb" text-anchor="middle">(314)</text>
<text x="637.00" y="693.00" font-size="10" fill="#969696" text-anchor="middle"><tspan font-style="italic">p</tspan>-value: 9.29e-1</text>
</svg></body></html>
